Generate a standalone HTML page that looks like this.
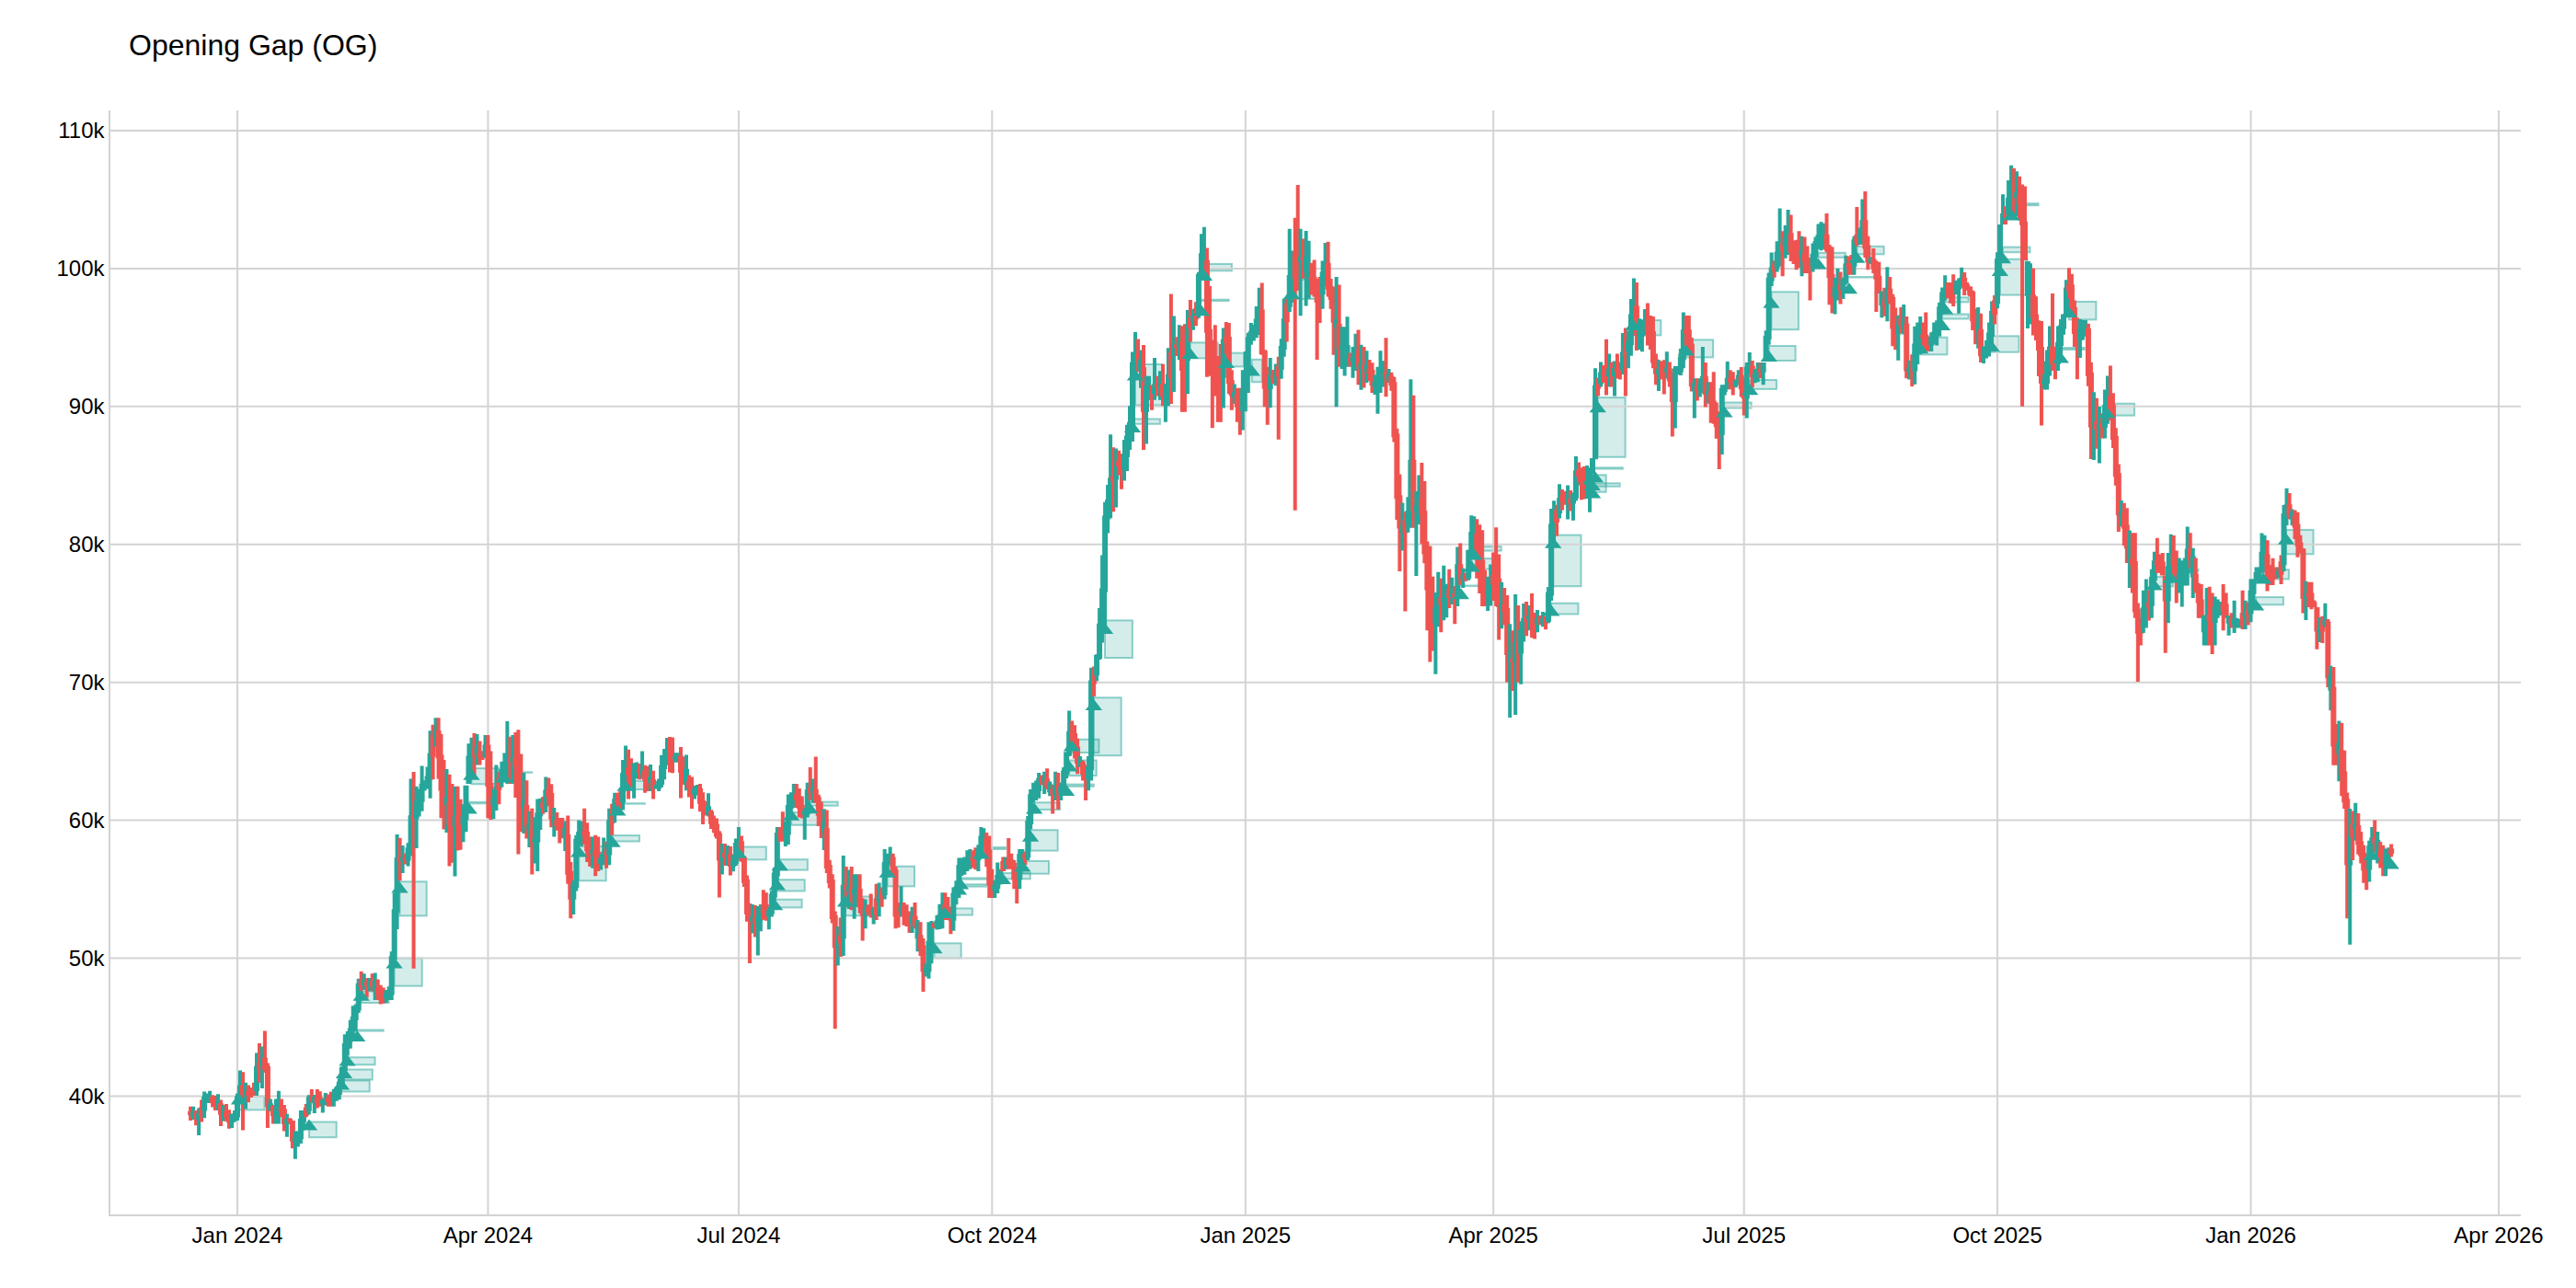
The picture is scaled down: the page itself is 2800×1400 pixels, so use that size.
<!DOCTYPE html>
<html><head><meta charset="utf-8"><style>
html,body{margin:0;padding:0;background:#fff;width:2800px;height:1400px;overflow:hidden}
svg{display:block}
.g{stroke:#d3d3d3;stroke-width:2}
text{font-family:"Liberation Sans",Arial,sans-serif;font-size:24px;fill:#000}
.t{font-size:32px}
</style></head><body>
<svg width="2800" height="1400" viewBox="0 0 2800 1400">
<rect width="2800" height="1400" fill="#fff"/>
<text class="t" x="140" y="60.3">Opening Gap (OG)</text>
<g fill="rgba(38,166,154,0.2)" stroke="rgba(38,166,154,0.5)" stroke-width="2"><rect x="260.0" y="1191.6" width="27.5" height="14.8"/><rect x="336.0" y="1219.5" width="29.7" height="16.7"/><rect x="371.0" y="1174.5" width="30.7" height="12.0"/><rect x="374.0" y="1162.5" width="30.8" height="11.0"/><rect x="377.5" y="1149.3" width="30.1" height="8.0"/><rect x="388.2" y="1119.5" width="28.5" height="1.1"/><rect x="392.7" y="1077.5" width="29.9" height="12.5"/><rect x="428.6" y="1041.5" width="30.1" height="30.2"/><rect x="434.5" y="958.3" width="29.2" height="37.1"/><rect x="509.7" y="871.8" width="29.8" height="1.5"/><rect x="512.5" y="835.1" width="29.9" height="17.2"/><rect x="547.8" y="839.3" width="30.4" height="0.5"/><rect x="629.3" y="919.9" width="29.4" height="37.4"/><rect x="665.6" y="908.1" width="29.4" height="6.4"/><rect x="802.6" y="920.5" width="30.2" height="13.9"/><rect x="842.1" y="977.7" width="29.5" height="8.7"/><rect x="844.8" y="956.2" width="29.9" height="12.3"/><rect x="847.7" y="934.2" width="30.1" height="11.4"/><rect x="860.1" y="883.0" width="28.8" height="13.8"/><rect x="880.3" y="871.6" width="30.3" height="4.1"/><rect x="919.0" y="974.5" width="28.9" height="20.8"/><rect x="964.5" y="941.7" width="29.5" height="21.7"/><rect x="1015.4" y="1025.3" width="29.3" height="16.2"/><rect x="1027.0" y="987.4" width="29.9" height="7.2"/><rect x="1042.0" y="961.3" width="29.9" height="2.3"/><rect x="1044.0" y="954.4" width="29.9" height="1.3"/><rect x="1066.3" y="921.0" width="26.7" height="2.0"/><rect x="1090.0" y="949.0" width="29.8" height="6.3"/><rect x="1111.5" y="935.9" width="28.5" height="13.8"/><rect x="1120.1" y="902.2" width="29.6" height="22.4"/><rect x="1124.2" y="872.3" width="27.8" height="7.7"/><rect x="1159.1" y="852.6" width="29.8" height="2.2"/><rect x="1162.1" y="826.5" width="29.6" height="16.6"/><rect x="1164.9" y="803.7" width="29.6" height="14.3"/><rect x="1188.9" y="758.3" width="29.8" height="62.9"/><rect x="1201.0" y="674.4" width="29.9" height="40.7"/><rect x="1231.0" y="455.4" width="29.9" height="5.4"/><rect x="1234.0" y="396.0" width="29.0" height="44.5"/><rect x="1293.7" y="372.4" width="30.0" height="17.0"/><rect x="1305.7" y="325.7" width="29.9" height="1.3"/><rect x="1308.9" y="286.9" width="30.0" height="7.4"/><rect x="1332.8" y="383.7" width="19.2" height="14.7"/><rect x="1360.7" y="390.8" width="11.2" height="24.4"/><rect x="1587.9" y="636.5" width="21.9" height="0.5"/><rect x="1599.6" y="607.1" width="28.8" height="11.5"/><rect x="1602.4" y="594.0" width="29.3" height="4.6"/><rect x="1686.2" y="655.7" width="29.3" height="11.8"/><rect x="1688.2" y="581.6" width="30.3" height="55.6"/><rect x="1731.1" y="516.3" width="14.6" height="18.5"/><rect x="1730.7" y="525.3" width="29.9" height="3.4"/><rect x="1733.9" y="508.3" width="29.9" height="1.3"/><rect x="1736.7" y="432.1" width="29.9" height="64.7"/><rect x="1775.4" y="348.1" width="29.9" height="16.3"/><rect x="1832.5" y="369.4" width="29.6" height="19.0"/><rect x="1874.3" y="437.5" width="29.3" height="6.0"/><rect x="1902.1" y="413.0" width="28.9" height="9.9"/><rect x="1922.7" y="376.0" width="28.9" height="16.0"/><rect x="1925.4" y="317.3" width="29.5" height="40.9"/><rect x="1976.3" y="274.8" width="29.5" height="5.0"/><rect x="2009.9" y="301.0" width="26.2" height="0.5"/><rect x="2018.3" y="267.8" width="29.4" height="8.5"/><rect x="2087.2" y="366.7" width="29.3" height="18.7"/><rect x="2111.0" y="341.5" width="28.7" height="5.0"/><rect x="2114.0" y="323.3" width="25.7" height="5.1"/><rect x="2164.6" y="365.3" width="29.9" height="17.4"/><rect x="2173.9" y="281.7" width="29.6" height="38.9"/><rect x="2176.9" y="268.6" width="29.6" height="5.6"/><rect x="2186.3" y="221.2" width="29.3" height="2.0"/><rect x="2239.8" y="378.0" width="25.8" height="2.0"/><rect x="2248.8" y="327.9" width="29.6" height="19.5"/><rect x="2290.2" y="438.7" width="29.8" height="12.9"/><rect x="2341.5" y="627.0" width="20.4" height="10.4"/><rect x="2359.6" y="619.0" width="29.6" height="2.3"/><rect x="2452.1" y="649.1" width="29.8" height="8.2"/><rect x="2460.0" y="619.2" width="27.9" height="10.2"/><rect x="2485.0" y="575.9" width="29.5" height="26.4"/><rect x="2578.0" y="922.5" width="14.0" height="0.5"/><rect x="671.4" y="873.2" width="29.5" height="0.5"/><rect x="679.6" y="848.7" width="29.9" height="9.4"/><rect x="1403.9" y="304.0" width="29.1" height="21.0"/></g>
<line x1="119" x2="2740" y1="1191.42" y2="1191.42" class="g"/><line x1="119" x2="2740" y1="1041.50" y2="1041.50" class="g"/><line x1="119" x2="2740" y1="891.59" y2="891.59" class="g"/><line x1="119" x2="2740" y1="741.67" y2="741.67" class="g"/><line x1="119" x2="2740" y1="591.75" y2="591.75" class="g"/><line x1="119" x2="2740" y1="441.83" y2="441.83" class="g"/><line x1="119" x2="2740" y1="291.92" y2="291.92" class="g"/><line x1="119" x2="2740" y1="142.00" y2="142.00" class="g"/><line x1="258.00" x2="258.00" y1="120" y2="1321" class="g"/><line x1="530.45" x2="530.45" y1="120" y2="1321" class="g"/><line x1="802.89" x2="802.89" y1="120" y2="1321" class="g"/><line x1="1078.33" x2="1078.33" y1="120" y2="1321" class="g"/><line x1="1353.77" x2="1353.77" y1="120" y2="1321" class="g"/><line x1="1623.22" x2="1623.22" y1="120" y2="1321" class="g"/><line x1="1895.67" x2="1895.67" y1="120" y2="1321" class="g"/><line x1="2171.11" x2="2171.11" y1="120" y2="1321" class="g"/><line x1="2446.55" x2="2446.55" y1="120" y2="1321" class="g"/><line x1="2716.00" x2="2716.00" y1="120" y2="1321" class="g"/><line x1="119" x2="119" y1="120" y2="1322" class="g"/><line x1="118" x2="2740" y1="1321" y2="1321" class="g"/>
<text x="113.5" y="1199.72" text-anchor="end">40k</text><text x="113.5" y="1049.80" text-anchor="end">50k</text><text x="113.5" y="899.88" text-anchor="end">60k</text><text x="113.5" y="749.97" text-anchor="end">70k</text><text x="113.5" y="600.05" text-anchor="end">80k</text><text x="113.5" y="450.13" text-anchor="end">90k</text><text x="113.5" y="300.22" text-anchor="end">100k</text><text x="113.5" y="150.30" text-anchor="end">110k</text><text x="258.00" y="1350.9" text-anchor="middle">Jan 2024</text><text x="530.45" y="1350.9" text-anchor="middle">Apr 2024</text><text x="802.89" y="1350.9" text-anchor="middle">Jul 2024</text><text x="1078.33" y="1350.9" text-anchor="middle">Oct 2024</text><text x="1353.77" y="1350.9" text-anchor="middle">Jan 2025</text><text x="1623.22" y="1350.9" text-anchor="middle">Apr 2025</text><text x="1895.67" y="1350.9" text-anchor="middle">Jul 2025</text><text x="2171.11" y="1350.9" text-anchor="middle">Oct 2025</text><text x="2446.55" y="1350.9" text-anchor="middle">Jan 2026</text><text x="2716.00" y="1350.9" text-anchor="middle">Apr 2026</text>
<g><path d="M205.1 1202.7h4V1207.8h1V1212.3h-1V1217.9h-4V1212.3h-1V1207.8h1Z" fill="#ef5350"/><path d="M208.1 1202.7h4V1207.8h1V1214.1h-1V1217.0h-4V1214.1h-1V1207.8h1Z" fill="#26a69a"/><path d="M211.1 1207.1h4V1210.1h1V1217.2h-1V1223.2h-4V1217.2h-1V1210.1h1Z" fill="#ef5350"/><path d="M214.1 1204.5h4V1210.1h1V1217.2h-1V1233.9h-4V1217.2h-1V1210.1h1Z" fill="#26a69a"/><path d="M217.1 1195.5h4V1203.4h1V1214.1h-1V1219.6h-4V1214.1h-1V1203.4h1Z" fill="#ef5350"/><path d="M220.1 1186.6h4V1191.8h1V1207.4h-1V1215.2h-4V1207.4h-1V1191.8h1Z" fill="#26a69a"/><path d="M223.1 1188.4h4V1191.8h1V1195.8h-1V1199.1h-4V1195.8h-1V1191.8h1Z" fill="#26a69a"/><path d="M226.1 1185.7h4V1191.8h1V1196.6h-1V1199.1h-4V1196.6h-1V1191.8h1Z" fill="#26a69a"/><path d="M229.1 1190.2h4V1192.6h1V1199.3h-1V1203.6h-4V1199.3h-1V1192.6h1Z" fill="#ef5350"/><path d="M232.0 1191.1h4V1195.3h1V1201.1h-1V1207.1h-4V1201.1h-1V1195.3h1Z" fill="#ef5350"/><path d="M235.0 1189.3h4V1197.1h1V1203.3h-1V1207.1h-4V1203.3h-1V1197.1h1Z" fill="#26a69a"/><path d="M238.0 1195.5h4V1199.3h1V1211.8h-1V1224.1h-4V1211.8h-1V1199.3h1Z" fill="#ef5350"/><path d="M241.0 1200.9h4V1207.8h1V1211.8h-1V1218.8h-4V1211.8h-1V1207.8h1Z" fill="#26a69a"/><path d="M244.0 1200.0h4V1207.8h1V1214.5h-1V1218.8h-4V1214.5h-1V1207.8h1Z" fill="#ef5350"/><path d="M247.0 1206.2h4V1210.5h1V1220.3h-1V1226.8h-4V1220.3h-1V1210.5h1Z" fill="#ef5350"/><path d="M250.0 1210.7h4V1213.2h1V1220.3h-1V1225.9h-4V1220.3h-1V1213.2h1Z" fill="#26a69a"/><path d="M253.0 1207.1h4V1210.5h1V1217.2h-1V1219.6h-4V1217.2h-1V1210.5h1Z" fill="#26a69a"/><path d="M256.0 1188.4h4V1191.3h1V1214.5h-1V1217.9h-4V1214.5h-1V1191.3h1Z" fill="#26a69a"/><path d="M259.0 1163.4h4V1179.7h1V1195.3h-1V1198.2h-4V1195.3h-1V1179.7h1Z" fill="#26a69a"/><path d="M262.0 1165.2h4V1179.7h1V1193.1h-1V1228.6h-4V1193.1h-1V1179.7h1Z" fill="#ef5350"/><path d="M265.0 1176.8h4V1186.8h1V1193.1h-1V1205.4h-4V1193.1h-1V1186.8h1Z" fill="#26a69a"/><path d="M268.0 1179.5h4V1185.5h1V1190.8h-1V1198.2h-4V1190.8h-1V1185.5h1Z" fill="#ef5350"/><path d="M271.0 1182.1h4V1184.6h1V1189.5h-1V1192.9h-4V1189.5h-1V1184.6h1Z" fill="#ef5350"/><path d="M274.0 1176.8h4V1181.9h1V1188.6h-1V1191.1h-4V1188.6h-1V1181.9h1Z" fill="#ef5350"/><path d="M277.0 1144.6h4V1158.7h1V1185.9h-1V1191.1h-4V1185.9h-1V1158.7h1Z" fill="#26a69a"/><path d="M280.0 1133.9h4V1155.1h1V1162.7h-1V1176.8h-4V1162.7h-1V1155.1h1Z" fill="#ef5350"/><path d="M282.9 1137.5h4V1149.8h1V1159.1h-1V1183.0h-4V1159.1h-1V1149.8h1Z" fill="#26a69a"/><path d="M285.9 1120.5h4V1149.8h1V1162.7h-1V1166.1h-4V1162.7h-1V1149.8h1Z" fill="#ef5350"/><path d="M288.9 1155.4h4V1158.7h1V1203.3h-1V1225.9h-4V1203.3h-1V1158.7h1Z" fill="#ef5350"/><path d="M291.9 1194.6h4V1199.3h1V1206.5h-1V1208.0h-4V1206.5h-1V1199.3h1Z" fill="#26a69a"/><path d="M294.9 1200.9h4V1202.5h1V1213.2h-1V1221.4h-4V1213.2h-1V1202.5h1Z" fill="#ef5350"/><path d="M297.9 1194.6h4V1206.0h1V1213.2h-1V1221.4h-4V1213.2h-1V1206.0h1Z" fill="#26a69a"/><path d="M300.9 1185.7h4V1202.5h1V1210.0h-1V1221.4h-4V1210.0h-1V1202.5h1Z" fill="#26a69a"/><path d="M303.9 1194.6h4V1202.5h1V1209.6h-1V1214.3h-4V1209.6h-1V1202.5h1Z" fill="#ef5350"/><path d="M306.9 1200.9h4V1205.6h1V1222.1h-1V1229.5h-4V1222.1h-1V1205.6h1Z" fill="#ef5350"/><path d="M309.9 1210.7h4V1215.9h1V1222.1h-1V1235.7h-4V1222.1h-1V1215.9h1Z" fill="#26a69a"/><path d="M312.9 1215.2h4V1215.9h1V1220.5h-1V1220.5h-4V1220.5h-1V1215.9h1Z" fill="#ef5350"/><path d="M315.9 1217.9h4V1217.9h1V1240.8h-1V1248.2h-4V1240.8h-1V1217.9h1Z" fill="#ef5350"/><path d="M318.9 1229.5h4V1235.9h1V1240.8h-1V1259.8h-4V1240.8h-1V1235.9h1Z" fill="#26a69a"/><path d="M321.9 1229.5h4V1234.2h1V1239.9h-1V1246.4h-4V1239.9h-1V1234.2h1Z" fill="#26a69a"/><path d="M324.9 1207.1h4V1215.9h1V1238.2h-1V1242.9h-4V1238.2h-1V1215.9h1Z" fill="#26a69a"/><path d="M327.9 1207.1h4V1208.7h1V1219.9h-1V1228.6h-4V1219.9h-1V1208.7h1Z" fill="#26a69a"/><path d="M330.8 1200.0h4V1203.8h1V1212.7h-1V1214.3h-4V1212.7h-1V1203.8h1Z" fill="#ef5350"/><path d="M333.8 1190.2h4V1192.2h1V1207.8h-1V1211.6h-4V1207.8h-1V1192.2h1Z" fill="#26a69a"/><path d="M336.8 1183.9h4V1192.1h1V1196.2h-1V1198.2h-4V1196.2h-1V1192.1h1Z" fill="#ef5350"/><path d="M339.8 1189.9h4V1192.1h1V1199.2h-1V1210.0h-4V1199.2h-1V1192.1h1Z" fill="#26a69a"/><path d="M342.8 1184.0h4V1192.4h1V1199.2h-1V1204.5h-4V1199.2h-1V1192.4h1Z" fill="#ef5350"/><path d="M345.8 1186.2h4V1192.4h1V1200.5h-1V1202.7h-4V1200.5h-1V1192.4h1Z" fill="#ef5350"/><path d="M348.8 1194.3h4V1195.9h1V1200.5h-1V1209.5h-4V1200.5h-1V1195.9h1Z" fill="#26a69a"/><path d="M351.8 1188.1h4V1193.5h1V1199.9h-1V1201.4h-4V1199.9h-1V1193.5h1Z" fill="#26a69a"/><path d="M354.8 1189.6h4V1193.5h1V1198.1h-1V1202.7h-4V1198.1h-1V1193.5h1Z" fill="#ef5350"/><path d="M357.8 1186.8h4V1192.8h1V1198.1h-1V1202.7h-4V1198.1h-1V1192.8h1Z" fill="#ef5350"/><path d="M360.8 1184.0h4V1188.4h1V1196.8h-1V1202.7h-4V1196.8h-1V1188.4h1Z" fill="#26a69a"/><path d="M363.8 1180.9h4V1186.1h1V1192.4h-1V1196.8h-4V1192.4h-1V1186.1h1Z" fill="#26a69a"/><path d="M366.8 1172.2h4V1175.8h1V1190.1h-1V1195.2h-4V1190.1h-1V1175.8h1Z" fill="#26a69a"/><path d="M369.8 1159.2h4V1159.9h1V1179.8h-1V1183.4h-4V1179.8h-1V1159.9h1Z" fill="#26a69a"/><path d="M372.8 1124.2h4V1133.9h1V1163.9h-1V1164.6h-4V1163.9h-1V1133.9h1Z" fill="#26a69a"/><path d="M375.8 1121.1h4V1128.4h1V1137.9h-1V1147.5h-4V1137.9h-1V1128.4h1Z" fill="#26a69a"/><path d="M378.8 1108.7h4V1117.6h1V1132.4h-1V1139.8h-4V1132.4h-1V1117.6h1Z" fill="#26a69a"/><path d="M381.7 1093.2h4V1105.1h1V1121.6h-1V1130.4h-4V1121.6h-1V1105.1h1Z" fill="#26a69a"/><path d="M384.7 1091.6h4V1094.3h1V1109.1h-1V1121.1h-4V1109.1h-1V1094.3h1Z" fill="#26a69a"/><path d="M387.7 1063.7h4V1068.7h1V1098.3h-1V1100.9h-4V1098.3h-1V1068.7h1Z" fill="#26a69a"/><path d="M390.7 1055.9h4V1065.2h1V1072.7h-1V1077.6h-4V1072.7h-1V1065.2h1Z" fill="#ef5350"/><path d="M393.7 1058.2h4V1065.2h1V1071.5h-1V1076.1h-4V1071.5h-1V1065.2h1Z" fill="#26a69a"/><path d="M396.7 1062.9h4V1067.5h1V1072.3h-1V1084.6h-4V1072.3h-1V1067.5h1Z" fill="#ef5350"/><path d="M399.7 1062.9h4V1068.3h1V1072.3h-1V1077.6h-4V1072.3h-1V1068.3h1Z" fill="#26a69a"/><path d="M402.7 1058.2h4V1065.9h1V1072.3h-1V1077.6h-4V1072.3h-1V1065.9h1Z" fill="#ef5350"/><path d="M405.7 1057.5h4V1065.9h1V1077.7h-1V1087.0h-4V1077.7h-1V1065.9h1Z" fill="#26a69a"/><path d="M408.7 1064.4h4V1073.7h1V1080.8h-1V1087.0h-4V1080.8h-1V1073.7h1Z" fill="#ef5350"/><path d="M411.7 1070.7h4V1076.8h1V1084.1h-1V1091.6h-4V1084.1h-1V1076.8h1Z" fill="#ef5350"/><path d="M414.7 1073.4h4V1080.1h1V1085.1h-1V1090.8h-4V1085.1h-1V1080.1h1Z" fill="#ef5350"/><path d="M417.7 1076.1h4V1079.5h1V1085.1h-1V1090.1h-4V1085.1h-1V1079.5h1Z" fill="#26a69a"/><path d="M420.7 1072.2h4V1077.6h1V1083.5h-1V1087.0h-4V1083.5h-1V1077.6h1Z" fill="#26a69a"/><path d="M423.7 1034.2h4V1039.3h1V1081.6h-1V1087.0h-4V1081.6h-1V1039.3h1Z" fill="#26a69a"/><path d="M426.7 970.6h4V988.3h1V1043.3h-1V1048.5h-4V1043.3h-1V988.3h1Z" fill="#26a69a"/><path d="M429.6 906.9h4V932.0h1V992.3h-1V1010.0h-4V992.3h-1V932.0h1Z" fill="#26a69a"/><path d="M432.6 910.7h4V932.0h1V936.0h-1V957.3h-4V936.0h-1V932.0h1Z" fill="#ef5350"/><path d="M435.6 919.1h4V931.5h1V936.0h-1V948.9h-4V936.0h-1V931.5h1Z" fill="#26a69a"/><path d="M438.6 927.4h4V931.5h1V935.5h-1V939.6h-4V935.5h-1V931.5h1Z" fill="#ef5350"/><path d="M441.6 916.3h4V921.3h1V935.5h-1V941.4h-4V935.5h-1V921.3h1Z" fill="#26a69a"/><path d="M444.6 846.4h4V886.3h1V925.3h-1V930.2h-4V925.3h-1V886.3h1Z" fill="#26a69a"/><path d="M447.6 838.9h4V886.3h1V890.3h-1V1052.8h-4V890.3h-1V886.3h1Z" fill="#ef5350"/><path d="M450.6 854.8h4V870.5h1V890.3h-1V921.9h-4V890.3h-1V870.5h1Z" fill="#26a69a"/><path d="M453.6 857.6h4V867.7h1V874.5h-1V887.4h-4V874.5h-1V867.7h1Z" fill="#26a69a"/><path d="M456.6 832.4h4V851.8h1V871.7h-1V881.8h-4V871.7h-1V851.8h1Z" fill="#26a69a"/><path d="M459.6 848.3h4V850.9h1V855.8h-1V859.4h-4V855.8h-1V850.9h1Z" fill="#26a69a"/><path d="M462.6 833.4h4V843.5h1V854.9h-1V857.6h-4V854.9h-1V843.5h1Z" fill="#26a69a"/><path d="M465.6 794.2h4V818.8h1V847.5h-1V867.8h-4V847.5h-1V818.8h1Z" fill="#26a69a"/><path d="M468.6 787.7h4V797.8h1V822.8h-1V847.3h-4V822.8h-1V797.8h1Z" fill="#ef5350"/><path d="M471.6 780.2h4V794.1h1V801.8h-1V811.9h-4V801.8h-1V794.1h1Z" fill="#26a69a"/><path d="M474.6 780.2h4V794.1h1V824.2h-1V846.4h-4V824.2h-1V794.1h1Z" fill="#ef5350"/><path d="M477.5 797.9h4V820.2h1V859.6h-1V889.2h-4V859.6h-1V820.2h1Z" fill="#ef5350"/><path d="M480.5 825.9h4V855.6h1V870.8h-1V901.4h-4V870.8h-1V855.6h1Z" fill="#ef5350"/><path d="M483.5 836.1h4V866.8h1V875.4h-1V905.1h-4V875.4h-1V866.8h1Z" fill="#26a69a"/><path d="M486.5 841.7h4V871.4h1V896.8h-1V941.4h-4V896.8h-1V871.4h1Z" fill="#ef5350"/><path d="M489.5 852.0h4V892.8h1V898.2h-1V937.7h-4V898.2h-1V892.8h1Z" fill="#ef5350"/><path d="M492.5 854.8h4V887.7h1V898.2h-1V952.6h-4V898.2h-1V887.7h1Z" fill="#26a69a"/><path d="M495.5 854.8h4V887.7h1V898.2h-1V924.6h-4V898.2h-1V887.7h1Z" fill="#ef5350"/><path d="M498.5 868.8h4V892.8h1V898.2h-1V923.7h-4V898.2h-1V892.8h1Z" fill="#ef5350"/><path d="M501.5 874.3h4V887.2h1V896.8h-1V915.3h-4V896.8h-1V887.2h1Z" fill="#26a69a"/><path d="M504.5 853.8h4V853.8h1V891.2h-1V904.2h-4V891.2h-1V853.8h1Z" fill="#26a69a"/><path d="M507.5 808.2h4V821.6h1V852.0h-1V852.0h-4V852.0h-1V821.6h1Z" fill="#26a69a"/><path d="M510.5 801.7h4V818.3h1V825.6h-1V838.9h-4V825.6h-1V818.3h1Z" fill="#26a69a"/><path d="M513.5 797.0h4V812.7h1V822.3h-1V842.7h-4V822.3h-1V812.7h1Z" fill="#ef5350"/><path d="M516.5 797.9h4V812.7h1V820.4h-1V831.5h-4V820.4h-1V812.7h1Z" fill="#26a69a"/><path d="M519.5 805.4h4V816.4h1V823.2h-1V831.5h-4V823.2h-1V816.4h1Z" fill="#ef5350"/><path d="M522.5 816.6h4V818.3h1V823.2h-1V825.9h-4V823.2h-1V818.3h1Z" fill="#ef5350"/><path d="M525.5 798.9h4V809.5h1V822.3h-1V824.0h-4V822.3h-1V809.5h1Z" fill="#26a69a"/><path d="M528.4 798.9h4V809.5h1V854.9h-1V889.2h-4V854.9h-1V809.5h1Z" fill="#ef5350"/><path d="M531.4 816.6h4V850.9h1V875.9h-1V891.1h-4V875.9h-1V850.9h1Z" fill="#ef5350"/><path d="M534.4 857.6h4V867.2h1V875.9h-1V890.2h-4V875.9h-1V867.2h1Z" fill="#26a69a"/><path d="M537.4 831.5h4V854.6h1V871.2h-1V880.9h-4V871.2h-1V854.6h1Z" fill="#26a69a"/><path d="M540.4 838.9h4V845.3h1V858.6h-1V874.3h-4V858.6h-1V845.3h1Z" fill="#ef5350"/><path d="M543.4 827.8h4V836.0h1V849.3h-1V855.7h-4V849.3h-1V836.0h1Z" fill="#26a69a"/><path d="M546.4 818.4h4V831.4h1V840.0h-1V848.3h-4V840.0h-1V831.4h1Z" fill="#26a69a"/><path d="M549.4 784.0h4V824.4h1V835.4h-1V852.0h-4V835.4h-1V824.4h1Z" fill="#26a69a"/><path d="M552.4 800.7h4V824.4h1V828.4h-1V852.0h-4V828.4h-1V824.4h1Z" fill="#ef5350"/><path d="M555.4 798.9h4V823.4h1V828.4h-1V852.0h-4V828.4h-1V823.4h1Z" fill="#26a69a"/><path d="M558.4 796.1h4V823.4h1V833.5h-1V866.9h-4V833.5h-1V823.4h1Z" fill="#ef5350"/><path d="M561.4 793.3h4V829.5h1V863.8h-1V928.4h-4V863.8h-1V829.5h1Z" fill="#ef5350"/><path d="M564.4 819.4h4V859.8h1V874.0h-1V904.2h-4V874.0h-1V859.8h1Z" fill="#ef5350"/><path d="M567.4 839.9h4V870.0h1V879.1h-1V906.0h-4V879.1h-1V870.0h1Z" fill="#26a69a"/><path d="M570.4 848.3h4V875.1h1V898.7h-1V911.6h-4V898.7h-1V875.1h1Z" fill="#ef5350"/><path d="M573.4 881.8h4V894.7h1V903.4h-1V920.9h-4V903.4h-1V894.7h1Z" fill="#26a69a"/><path d="M576.3 878.8h4V899.4h1V915.4h-1V950.5h-4V915.4h-1V899.4h1Z" fill="#ef5350"/><path d="M579.3 888.2h4V911.4h1V915.4h-1V938.6h-4V915.4h-1V911.4h1Z" fill="#26a69a"/><path d="M582.3 868.6h4V883.2h1V915.4h-1V947.1h-4V915.4h-1V883.2h1Z" fill="#26a69a"/><path d="M585.3 867.7h4V874.2h1V887.2h-1V901.9h-4V887.2h-1V874.2h1Z" fill="#26a69a"/><path d="M588.3 866.0h4V872.5h1V878.2h-1V884.8h-4V878.2h-1V872.5h1Z" fill="#ef5350"/><path d="M591.3 844.6h4V858.4h1V876.5h-1V883.1h-4V876.5h-1V858.4h1Z" fill="#26a69a"/><path d="M594.3 845.5h4V858.4h1V865.9h-1V875.4h-4V865.9h-1V858.4h1Z" fill="#ef5350"/><path d="M597.3 852.3h4V861.9h1V890.6h-1V899.3h-4V890.6h-1V861.9h1Z" fill="#ef5350"/><path d="M600.3 877.9h4V886.6h1V894.9h-1V909.5h-4V894.9h-1V886.6h1Z" fill="#26a69a"/><path d="M603.3 883.1h4V890.9h1V897.9h-1V902.7h-4V897.9h-1V890.9h1Z" fill="#ef5350"/><path d="M606.3 889.0h4V893.9h1V902.1h-1V916.4h-4V902.1h-1V893.9h1Z" fill="#ef5350"/><path d="M609.3 889.0h4V898.1h1V903.9h-1V911.2h-4V903.9h-1V898.1h1Z" fill="#ef5350"/><path d="M612.3 892.5h4V899.9h1V910.7h-1V924.9h-4V910.7h-1V899.9h1Z" fill="#26a69a"/><path d="M615.3 886.5h4V906.7h1V950.8h-1V960.8h-4V950.8h-1V906.7h1Z" fill="#ef5350"/><path d="M618.3 936.9h4V946.8h1V977.7h-1V998.3h-4V977.7h-1V946.8h1Z" fill="#ef5350"/><path d="M621.3 957.3h4V960.9h1V977.7h-1V994.1h-4V977.7h-1V960.9h1Z" fill="#26a69a"/><path d="M624.3 907.8h4V911.8h1V964.9h-1V968.4h-4V964.9h-1V911.8h1Z" fill="#26a69a"/><path d="M627.2 891.6h4V904.1h1V915.8h-1V919.8h-4V915.8h-1V904.1h1Z" fill="#26a69a"/><path d="M630.2 892.5h4V903.3h1V908.1h-1V919.8h-4V908.1h-1V903.3h1Z" fill="#26a69a"/><path d="M633.2 878.8h4V903.3h1V908.1h-1V918.1h-4V908.1h-1V903.3h1Z" fill="#ef5350"/><path d="M636.2 894.2h4V904.1h1V925.2h-1V936.9h-4V925.2h-1V904.1h1Z" fill="#ef5350"/><path d="M639.2 909.5h4V921.2h1V927.8h-1V942.0h-4V927.8h-1V921.2h1Z" fill="#ef5350"/><path d="M642.2 909.5h4V923.8h1V928.6h-1V943.7h-4V928.6h-1V923.8h1Z" fill="#26a69a"/><path d="M645.2 907.8h4V924.6h1V930.3h-1V952.2h-4V930.3h-1V924.6h1Z" fill="#ef5350"/><path d="M648.2 909.5h4V926.3h1V938.9h-1V947.1h-4V938.9h-1V926.3h1Z" fill="#ef5350"/><path d="M651.2 928.3h4V932.3h1V938.9h-1V945.4h-4V938.9h-1V932.3h1Z" fill="#26a69a"/><path d="M654.2 910.4h4V925.5h1V936.3h-1V940.3h-4V936.3h-1V925.5h1Z" fill="#26a69a"/><path d="M657.2 914.7h4V925.5h1V929.5h-1V943.7h-4V929.5h-1V925.5h1Z" fill="#ef5350"/><path d="M660.2 878.8h4V891.3h1V929.5h-1V940.3h-4V929.5h-1V891.3h1Z" fill="#26a69a"/><path d="M663.2 873.7h4V881.9h1V895.3h-1V907.8h-4V895.3h-1V881.9h1Z" fill="#ef5350"/><path d="M666.2 861.7h4V868.3h1V885.9h-1V894.2h-4V885.9h-1V868.3h1Z" fill="#26a69a"/><path d="M669.2 861.7h4V868.3h1V872.3h-1V878.8h-4V872.3h-1V868.3h1Z" fill="#ef5350"/><path d="M672.2 860.0h4V868.3h1V872.3h-1V880.5h-4V872.3h-1V868.3h1Z" fill="#ef5350"/><path d="M675.1 825.9h4V840.1h1V872.3h-1V880.5h-4V872.3h-1V840.1h1Z" fill="#26a69a"/><path d="M678.1 810.5h4V834.5h1V844.1h-1V858.3h-4V844.1h-1V834.5h1Z" fill="#26a69a"/><path d="M681.1 814.8h4V834.5h1V842.4h-1V868.6h-4V842.4h-1V834.5h1Z" fill="#ef5350"/><path d="M684.1 824.2h4V838.4h1V844.9h-1V856.6h-4V844.9h-1V838.4h1Z" fill="#ef5350"/><path d="M687.1 829.3h4V835.8h1V844.9h-1V867.7h-4V844.9h-1V835.8h1Z" fill="#26a69a"/><path d="M690.1 828.4h4V835.8h1V840.2h-1V846.4h-4V840.2h-1V835.8h1Z" fill="#26a69a"/><path d="M693.1 830.1h4V836.2h1V840.2h-1V847.2h-4V840.2h-1V836.2h1Z" fill="#ef5350"/><path d="M696.1 816.5h4V836.2h1V841.1h-1V846.4h-4V841.1h-1V836.2h1Z" fill="#26a69a"/><path d="M699.1 831.8h4V837.1h1V848.4h-1V861.7h-4V848.4h-1V837.1h1Z" fill="#ef5350"/><path d="M702.1 832.7h4V844.4h1V848.4h-1V860.0h-4V848.4h-1V844.4h1Z" fill="#ef5350"/><path d="M705.1 831.0h4V844.4h1V850.9h-1V860.0h-4V850.9h-1V844.4h1Z" fill="#26a69a"/><path d="M708.1 837.8h4V846.9h1V857.3h-1V868.6h-4V857.3h-1V846.9h1Z" fill="#ef5350"/><path d="M711.1 853.2h4V853.3h1V857.3h-1V857.5h-4V857.3h-1V853.3h1Z" fill="#26a69a"/><path d="M714.1 846.4h4V849.0h1V857.3h-1V860.0h-4V857.3h-1V849.0h1Z" fill="#26a69a"/><path d="M717.1 820.7h4V832.0h1V853.0h-1V855.7h-4V853.0h-1V832.0h1Z" fill="#26a69a"/><path d="M720.1 813.9h4V820.9h1V836.0h-1V847.2h-4V836.0h-1V820.9h1Z" fill="#26a69a"/><path d="M723.0 802.0h4V814.9h1V824.9h-1V831.8h-4V824.9h-1V814.9h1Z" fill="#26a69a"/><path d="M726.0 801.1h4V814.9h1V822.5h-1V839.5h-4V822.5h-1V814.9h1Z" fill="#ef5350"/><path d="M729.0 801.5h4V818.5h1V825.6h-1V840.3h-4V825.6h-1V818.5h1Z" fill="#ef5350"/><path d="M732.0 818.3h4V821.6h1V825.6h-1V828.8h-4V825.6h-1V821.6h1Z" fill="#26a69a"/><path d="M735.0 818.3h4V821.6h1V825.6h-1V828.8h-4V825.6h-1V821.6h1Z" fill="#26a69a"/><path d="M738.0 812.0h4V821.6h1V839.7h-1V867.6h-4V839.7h-1V821.6h1Z" fill="#ef5350"/><path d="M741.0 822.5h4V835.7h1V839.7h-1V852.9h-4V839.7h-1V835.7h1Z" fill="#ef5350"/><path d="M744.0 820.4h4V835.7h1V852.8h-1V859.2h-4V852.8h-1V835.7h1Z" fill="#26a69a"/><path d="M747.0 842.4h4V848.8h1V857.5h-1V866.5h-4V857.5h-1V848.8h1Z" fill="#ef5350"/><path d="M750.0 844.5h4V853.5h1V863.3h-1V879.1h-4V863.3h-1V853.5h1Z" fill="#ef5350"/><path d="M753.0 854.0h4V857.2h1V863.3h-1V868.6h-4V863.3h-1V857.2h1Z" fill="#26a69a"/><path d="M756.0 852.9h4V856.7h1V861.2h-1V864.4h-4V861.2h-1V856.7h1Z" fill="#26a69a"/><path d="M759.0 851.9h4V856.7h1V873.8h-1V882.3h-4V873.8h-1V856.7h1Z" fill="#ef5350"/><path d="M762.0 861.3h4V869.8h1V880.6h-1V895.9h-4V880.6h-1V869.8h1Z" fill="#ef5350"/><path d="M765.0 870.7h4V876.6h1V880.6h-1V886.5h-4V880.6h-1V876.6h1Z" fill="#ef5350"/><path d="M768.0 862.3h4V876.6h1V885.8h-1V887.5h-4V885.8h-1V876.6h1Z" fill="#26a69a"/><path d="M771.0 880.2h4V881.8h1V895.8h-1V901.1h-4V895.8h-1V881.8h1Z" fill="#ef5350"/><path d="M773.9 886.5h4V891.8h1V899.5h-1V905.3h-4V899.5h-1V891.8h1Z" fill="#ef5350"/><path d="M776.9 889.6h4V895.5h1V909.4h-1V911.6h-4V909.4h-1V895.5h1Z" fill="#ef5350"/><path d="M779.9 903.2h4V905.4h1V935.6h-1V975.6h-4V935.6h-1V905.4h1Z" fill="#ef5350"/><path d="M782.9 916.9h4V926.9h1V935.6h-1V950.4h-4V935.6h-1V926.9h1Z" fill="#26a69a"/><path d="M785.9 916.9h4V926.9h1V932.0h-1V941.0h-4V932.0h-1V926.9h1Z" fill="#ef5350"/><path d="M788.9 919.0h4V928.0h1V932.5h-1V941.0h-4V932.5h-1V928.0h1Z" fill="#26a69a"/><path d="M791.9 920.0h4V928.5h1V941.9h-1V951.5h-4V941.9h-1V928.5h1Z" fill="#ef5350"/><path d="M794.9 932.6h4V934.8h1V941.9h-1V947.3h-4V941.9h-1V934.8h1Z" fill="#26a69a"/><path d="M797.9 911.6h4V915.9h1V938.8h-1V941.0h-4V938.8h-1V915.9h1Z" fill="#26a69a"/><path d="M800.9 899.0h4V914.3h1V919.9h-1V924.2h-4V919.9h-1V914.3h1Z" fill="#26a69a"/><path d="M803.9 908.5h4V914.3h1V935.6h-1V936.8h-4V935.6h-1V914.3h1Z" fill="#ef5350"/><path d="M806.9 930.5h4V931.6h1V959.8h-1V964.0h-4V959.8h-1V931.6h1Z" fill="#ef5350"/><path d="M809.9 951.5h4V955.8h1V993.8h-1V1001.8h-4V993.8h-1V955.8h1Z" fill="#ef5350"/><path d="M812.9 981.9h4V989.8h1V1000.6h-1V1046.9h-4V1000.6h-1V989.8h1Z" fill="#ef5350"/><path d="M815.9 982.9h4V996.6h1V1001.2h-1V1014.4h-4V1001.2h-1V996.6h1Z" fill="#26a69a"/><path d="M818.9 984.0h4V997.2h1V1003.8h-1V1018.6h-4V1003.8h-1V997.2h1Z" fill="#ef5350"/><path d="M821.8 985.0h4V996.6h1V1003.8h-1V1038.5h-4V1003.8h-1V996.6h1Z" fill="#26a69a"/><path d="M824.8 982.9h4V989.3h1V1000.6h-1V1012.3h-4V1000.6h-1V989.3h1Z" fill="#26a69a"/><path d="M827.8 967.2h4V983.0h1V993.3h-1V999.7h-4V993.3h-1V983.0h1Z" fill="#ef5350"/><path d="M830.8 970.3h4V983.0h1V995.9h-1V1000.7h-4V995.9h-1V983.0h1Z" fill="#ef5350"/><path d="M833.8 987.1h4V989.8h1V995.9h-1V1010.2h-4V995.9h-1V989.8h1Z" fill="#26a69a"/><path d="M836.8 968.2h4V971.5h1V993.8h-1V996.5h-4V993.8h-1V971.5h1Z" fill="#26a69a"/><path d="M839.8 943.1h4V948.4h1V975.5h-1V978.7h-4V975.5h-1V948.4h1Z" fill="#26a69a"/><path d="M842.8 899.0h4V904.9h1V952.4h-1V957.8h-4V952.4h-1V904.9h1Z" fill="#26a69a"/><path d="M845.8 899.0h4V904.9h1V908.9h-1V914.8h-4V908.9h-1V904.9h1Z" fill="#ef5350"/><path d="M848.8 882.3h4V901.8h1V908.9h-1V914.8h-4V908.9h-1V901.8h1Z" fill="#ef5350"/><path d="M851.8 892.7h4V901.8h1V907.3h-1V920.0h-4V907.3h-1V901.8h1Z" fill="#26a69a"/><path d="M854.8 863.4h4V875.0h1V907.3h-1V917.9h-4V907.3h-1V875.0h1Z" fill="#26a69a"/><path d="M857.8 861.3h4V867.7h1V879.0h-1V890.7h-4V879.0h-1V867.7h1Z" fill="#26a69a"/><path d="M860.8 851.9h4V863.0h1V871.7h-1V878.1h-4V871.7h-1V863.0h1Z" fill="#26a69a"/><path d="M863.8 851.9h4V863.0h1V869.6h-1V878.1h-4V869.6h-1V863.0h1Z" fill="#ef5350"/><path d="M866.8 857.1h4V865.6h1V879.0h-1V888.6h-4V879.0h-1V865.6h1Z" fill="#ef5350"/><path d="M869.8 865.5h4V875.0h1V885.8h-1V889.6h-4V885.8h-1V875.0h1Z" fill="#ef5350"/><path d="M872.7 878.1h4V881.3h1V885.8h-1V912.7h-4V885.8h-1V881.3h1Z" fill="#26a69a"/><path d="M875.7 850.8h4V858.2h1V885.3h-1V888.6h-4V885.3h-1V858.2h1Z" fill="#26a69a"/><path d="M878.7 834.0h4V856.1h1V862.2h-1V869.7h-4V862.2h-1V856.1h1Z" fill="#ef5350"/><path d="M881.7 846.6h4V856.1h1V861.7h-1V872.8h-4V861.7h-1V856.1h1Z" fill="#26a69a"/><path d="M884.7 822.5h4V857.7h1V870.3h-1V872.8h-4V870.3h-1V857.7h1Z" fill="#ef5350"/><path d="M887.7 863.8h4V866.3h1V886.8h-1V898.1h-4V886.8h-1V866.3h1Z" fill="#ef5350"/><path d="M890.7 871.5h4V882.8h1V897.1h-1V911.1h-4V897.1h-1V882.8h1Z" fill="#ef5350"/><path d="M893.7 879.2h4V893.1h1V904.2h-1V924.1h-4V904.2h-1V893.1h1Z" fill="#26a69a"/><path d="M896.7 880.4h4V900.2h1V943.9h-1V949.0h-4V943.9h-1V900.2h1Z" fill="#ef5350"/><path d="M899.7 934.8h4V939.9h1V959.9h-1V965.6h-4V959.9h-1V939.9h1Z" fill="#ef5350"/><path d="M902.7 950.2h4V955.9h1V998.9h-1V1003.4h-4V998.9h-1V955.9h1Z" fill="#ef5350"/><path d="M905.7 990.4h4V994.9h1V1030.3h-1V1118.2h-4V1030.3h-1V994.9h1Z" fill="#ef5350"/><path d="M908.7 1007.0h4V1021.6h1V1030.3h-1V1049.6h-4V1030.3h-1V1021.6h1Z" fill="#26a69a"/><path d="M911.7 997.5h4V1016.2h1V1025.6h-1V1040.1h-4V1025.6h-1V1016.2h1Z" fill="#ef5350"/><path d="M914.7 930.1h4V961.8h1V1020.2h-1V1038.9h-4V1020.2h-1V961.8h1Z" fill="#26a69a"/><path d="M917.7 941.9h4V961.8h1V967.6h-1V985.7h-4V967.6h-1V961.8h1Z" fill="#ef5350"/><path d="M920.6 945.4h4V963.6h1V968.7h-1V988.0h-4V968.7h-1V963.6h1Z" fill="#26a69a"/><path d="M923.6 941.9h4V964.7h1V971.7h-1V989.2h-4V971.7h-1V964.7h1Z" fill="#ef5350"/><path d="M926.6 950.2h4V965.9h1V971.7h-1V998.7h-4V971.7h-1V965.9h1Z" fill="#26a69a"/><path d="M929.6 950.2h4V965.9h1V969.9h-1V985.7h-4V969.9h-1V965.9h1Z" fill="#26a69a"/><path d="M932.6 950.2h4V965.9h1V986.5h-1V992.8h-4V986.5h-1V965.9h1Z" fill="#ef5350"/><path d="M935.6 976.2h4V982.5h1V995.4h-1V1022.4h-4V995.4h-1V982.5h1Z" fill="#ef5350"/><path d="M938.6 977.4h4V987.2h1V995.4h-1V1009.3h-4V995.4h-1V987.2h1Z" fill="#26a69a"/><path d="M941.6 983.3h4V987.2h1V991.2h-1V995.1h-4V991.2h-1V987.2h1Z" fill="#ef5350"/><path d="M944.6 971.5h4V987.2h1V993.6h-1V997.5h-4V993.6h-1V987.2h1Z" fill="#ef5350"/><path d="M947.6 985.7h4V989.6h1V994.8h-1V1004.6h-4V994.8h-1V989.6h1Z" fill="#26a69a"/><path d="M950.6 960.8h4V976.6h1V994.8h-1V999.9h-4V994.8h-1V976.6h1Z" fill="#ef5350"/><path d="M953.6 959.6h4V973.0h1V980.6h-1V996.3h-4V980.6h-1V973.0h1Z" fill="#26a69a"/><path d="M956.6 964.4h4V968.9h1V977.0h-1V985.7h-4V977.0h-1V968.9h1Z" fill="#ef5350"/><path d="M959.6 923.0h4V936.9h1V972.9h-1V977.4h-4V972.9h-1V936.9h1Z" fill="#26a69a"/><path d="M962.6 927.7h4V931.6h1V940.9h-1V950.2h-4V940.9h-1V931.6h1Z" fill="#26a69a"/><path d="M965.6 920.6h4V931.6h1V935.6h-1V939.5h-4V935.6h-1V931.6h1Z" fill="#26a69a"/><path d="M968.6 927.7h4V931.6h1V949.2h-1V952.5h-4V949.2h-1V931.6h1Z" fill="#ef5350"/><path d="M971.5 941.9h4V945.2h1V996.6h-1V1009.3h-4V996.6h-1V945.2h1Z" fill="#ef5350"/><path d="M974.5 980.9h4V986.6h1V996.6h-1V1008.2h-4V996.6h-1V986.6h1Z" fill="#ef5350"/><path d="M977.5 963.2h4V986.6h1V990.6h-1V996.3h-4V990.6h-1V986.6h1Z" fill="#26a69a"/><path d="M980.5 980.9h4V986.6h1V996.6h-1V1005.8h-4V996.6h-1V986.6h1Z" fill="#ef5350"/><path d="M983.5 983.3h4V992.6h1V1000.7h-1V1007.0h-4V1000.7h-1V992.6h1Z" fill="#ef5350"/><path d="M986.5 990.4h4V996.7h1V1004.2h-1V1014.1h-4V1004.2h-1V996.7h1Z" fill="#ef5350"/><path d="M989.5 985.7h4V995.5h1V1004.2h-1V1014.1h-4V1004.2h-1V995.5h1Z" fill="#26a69a"/><path d="M992.5 980.9h4V995.5h1V1006.6h-1V1009.3h-4V1006.6h-1V995.5h1Z" fill="#ef5350"/><path d="M995.5 999.9h4V1002.6h1V1020.2h-1V1034.2h-4V1020.2h-1V1002.6h1Z" fill="#26a69a"/><path d="M998.5 1002.2h4V1016.2h1V1031.5h-1V1038.9h-4V1031.5h-1V1016.2h1Z" fill="#ef5350"/><path d="M1001.5 1020.0h4V1027.5h1V1056.3h-1V1078.0h-4V1056.3h-1V1027.5h1Z" fill="#ef5350"/><path d="M1004.5 1047.2h4V1052.3h1V1056.3h-1V1061.4h-4V1056.3h-1V1052.3h1Z" fill="#26a69a"/><path d="M1007.5 1002.2h4V1022.7h1V1056.3h-1V1063.8h-4V1056.3h-1V1022.7h1Z" fill="#26a69a"/><path d="M1010.5 1001.1h4V1003.8h1V1026.7h-1V1047.2h-4V1026.7h-1V1003.8h1Z" fill="#26a69a"/><path d="M1013.5 1002.2h4V1003.8h1V1007.8h-1V1009.3h-4V1007.8h-1V1003.8h1Z" fill="#ef5350"/><path d="M1016.5 995.1h4V1000.5h1V1007.8h-1V1010.5h-4V1007.8h-1V1000.5h1Z" fill="#26a69a"/><path d="M1019.4 982.7h4V994.0h1V1004.5h-1V1009.9h-4V1004.5h-1V994.0h1Z" fill="#26a69a"/><path d="M1022.4 970.3h4V983.1h1V998.0h-1V1009.3h-4V998.0h-1V983.1h1Z" fill="#26a69a"/><path d="M1025.4 970.3h4V983.1h1V989.5h-1V999.9h-4V989.5h-1V983.1h1Z" fill="#ef5350"/><path d="M1028.4 975.0h4V985.5h1V994.8h-1V999.9h-4V994.8h-1V985.5h1Z" fill="#ef5350"/><path d="M1031.4 985.7h4V990.8h1V1000.7h-1V1015.3h-4V1000.7h-1V990.8h1Z" fill="#ef5350"/><path d="M1034.4 964.4h4V971.8h1V1000.7h-1V1011.7h-4V1000.7h-1V971.8h1Z" fill="#26a69a"/><path d="M1037.4 957.3h4V964.6h1V975.8h-1V983.3h-4V975.8h-1V964.6h1Z" fill="#26a69a"/><path d="M1040.4 932.6h4V940.3h1V968.6h-1V976.0h-4V968.6h-1V940.3h1Z" fill="#26a69a"/><path d="M1043.4 932.6h4V939.7h1V944.3h-1V951.9h-4V944.3h-1V939.7h1Z" fill="#26a69a"/><path d="M1046.4 931.4h4V937.3h1V943.7h-1V950.7h-4V943.7h-1V937.3h1Z" fill="#26a69a"/><path d="M1049.4 924.2h4V932.5h1V941.3h-1V947.1h-4V941.3h-1V932.5h1Z" fill="#26a69a"/><path d="M1052.4 923.0h4V931.8h1V936.5h-1V944.7h-4V936.5h-1V931.8h1Z" fill="#26a69a"/><path d="M1055.4 924.2h4V931.8h1V935.8h-1V943.5h-4V935.8h-1V931.8h1Z" fill="#ef5350"/><path d="M1058.4 921.2h4V931.2h1V935.8h-1V945.3h-4V935.8h-1V931.2h1Z" fill="#ef5350"/><path d="M1061.4 918.2h4V922.2h1V935.2h-1V947.1h-4V935.2h-1V922.2h1Z" fill="#26a69a"/><path d="M1064.4 899.0h4V908.4h1V926.2h-1V930.2h-4V926.2h-1V908.4h1Z" fill="#26a69a"/><path d="M1067.3 900.2h4V908.4h1V914.8h-1V920.6h-4V914.8h-1V908.4h1Z" fill="#26a69a"/><path d="M1070.3 905.0h4V910.8h1V927.4h-1V942.3h-4V927.4h-1V910.8h1Z" fill="#ef5350"/><path d="M1073.3 908.6h4V923.4h1V962.3h-1V976.0h-4V962.3h-1V923.4h1Z" fill="#ef5350"/><path d="M1076.3 944.7h4V958.3h1V968.3h-1V976.0h-4V968.3h-1V958.3h1Z" fill="#ef5350"/><path d="M1079.3 956.7h4V961.9h1V968.3h-1V976.0h-4V968.3h-1V961.9h1Z" fill="#26a69a"/><path d="M1082.3 937.5h4V951.1h1V965.9h-1V971.1h-4V965.9h-1V951.1h1Z" fill="#26a69a"/><path d="M1085.3 944.7h4V944.7h1V955.1h-1V961.5h-4V955.1h-1V944.7h1Z" fill="#26a69a"/><path d="M1088.3 931.4h4V936.1h1V947.1h-1V947.1h-4V947.1h-1V936.1h1Z" fill="#ef5350"/><path d="M1091.3 931.4h4V936.1h1V940.1h-1V944.7h-4V940.1h-1V936.1h1Z" fill="#26a69a"/><path d="M1094.3 911.0h4V934.3h1V940.1h-1V944.7h-4V940.1h-1V934.3h1Z" fill="#ef5350"/><path d="M1097.3 927.8h4V934.3h1V941.9h-1V944.7h-4V941.9h-1V934.3h1Z" fill="#ef5350"/><path d="M1100.3 935.1h4V937.9h1V956.3h-1V966.3h-4V956.3h-1V937.9h1Z" fill="#ef5350"/><path d="M1103.3 942.3h4V952.3h1V956.3h-1V982.0h-4V956.3h-1V952.3h1Z" fill="#ef5350"/><path d="M1106.3 923.0h4V928.2h1V956.3h-1V966.3h-4V956.3h-1V928.2h1Z" fill="#26a69a"/><path d="M1109.3 923.0h4V928.2h1V933.4h-1V937.5h-4V933.4h-1V928.2h1Z" fill="#26a69a"/><path d="M1112.3 925.4h4V928.2h1V933.4h-1V939.9h-4V933.4h-1V928.2h1Z" fill="#ef5350"/><path d="M1115.3 886.9h4V892.1h1V932.2h-1V935.1h-4V932.2h-1V892.1h1Z" fill="#26a69a"/><path d="M1118.2 858.1h4V863.3h1V896.1h-1V901.4h-4V896.1h-1V863.3h1Z" fill="#26a69a"/><path d="M1121.2 850.8h4V858.5h1V867.3h-1V872.5h-4V867.3h-1V858.5h1Z" fill="#26a69a"/><path d="M1124.2 848.4h4V856.1h1V862.5h-1V870.1h-4V862.5h-1V856.1h1Z" fill="#26a69a"/><path d="M1127.2 840.0h4V845.8h1V860.1h-1V867.7h-4V860.1h-1V845.8h1Z" fill="#26a69a"/><path d="M1130.2 842.4h4V845.8h1V849.8h-1V853.2h-4V849.8h-1V845.8h1Z" fill="#ef5350"/><path d="M1133.2 838.8h4V845.8h1V850.4h-1V862.9h-4V850.4h-1V845.8h1Z" fill="#26a69a"/><path d="M1136.2 835.2h4V846.4h1V855.8h-1V858.1h-4V855.8h-1V846.4h1Z" fill="#ef5350"/><path d="M1139.2 849.6h4V851.8h1V861.3h-1V865.3h-4V861.3h-1V851.8h1Z" fill="#26a69a"/><path d="M1142.2 853.2h4V857.3h1V863.7h-1V884.5h-4V863.7h-1V857.3h1Z" fill="#ef5350"/><path d="M1145.2 838.8h4V853.0h1V863.7h-1V870.1h-4V863.7h-1V853.0h1Z" fill="#26a69a"/><path d="M1148.2 840.0h4V853.0h1V862.5h-1V879.7h-4V862.5h-1V853.0h1Z" fill="#ef5350"/><path d="M1151.2 850.8h4V854.9h1V862.5h-1V870.1h-4V862.5h-1V854.9h1Z" fill="#26a69a"/><path d="M1154.2 834.0h4V838.0h1V858.9h-1V862.9h-4V858.9h-1V838.0h1Z" fill="#26a69a"/><path d="M1157.2 817.2h4V817.6h1V842.0h-1V846.0h-4V842.0h-1V817.6h1Z" fill="#26a69a"/><path d="M1160.2 772.6h4V794.7h1V821.6h-1V822.0h-4V821.6h-1V794.7h1Z" fill="#26a69a"/><path d="M1163.2 783.5h4V794.7h1V801.1h-1V809.9h-4V801.1h-1V794.7h1Z" fill="#ef5350"/><path d="M1166.1 788.3h4V797.1h1V815.5h-1V824.4h-4V815.5h-1V797.1h1Z" fill="#ef5350"/><path d="M1169.1 802.7h4V811.5h1V830.0h-1V841.2h-4V830.0h-1V811.5h1Z" fill="#ef5350"/><path d="M1172.1 822.0h4V826.0h1V832.4h-1V834.0h-4V832.4h-1V826.0h1Z" fill="#26a69a"/><path d="M1175.1 826.8h4V828.4h1V842.0h-1V848.4h-4V842.0h-1V828.4h1Z" fill="#ef5350"/><path d="M1178.1 831.6h4V838.0h1V847.4h-1V870.1h-4V847.4h-1V838.0h1Z" fill="#ef5350"/><path d="M1181.1 822.0h4V833.2h1V847.4h-1V859.3h-4V847.4h-1V833.2h1Z" fill="#26a69a"/><path d="M1184.1 725.7h4V739.4h1V837.2h-1V848.4h-4V837.2h-1V739.4h1Z" fill="#26a69a"/><path d="M1187.1 724.5h4V730.3h1V743.4h-1V757.0h-4V743.4h-1V730.3h1Z" fill="#ef5350"/><path d="M1190.1 711.3h4V712.1h1V734.3h-1V740.2h-4V734.3h-1V712.1h1Z" fill="#26a69a"/><path d="M1193.1 661.1h4V677.7h1V716.1h-1V717.0h-4V716.1h-1V677.7h1Z" fill="#26a69a"/><path d="M1196.1 603.4h4V639.6h1V681.7h-1V698.4h-4V681.7h-1V639.6h1Z" fill="#26a69a"/><path d="M1199.1 545.7h4V560.6h1V643.6h-1V679.7h-4V643.6h-1V560.6h1Z" fill="#26a69a"/><path d="M1202.1 527.0h4V543.1h1V564.6h-1V579.5h-4V564.6h-1V543.1h1Z" fill="#26a69a"/><path d="M1205.1 472.3h4V519.2h1V547.1h-1V563.2h-4V547.1h-1V519.2h1Z" fill="#26a69a"/><path d="M1208.1 486.2h4V517.5h1V523.2h-1V556.2h-4V523.2h-1V517.5h1Z" fill="#ef5350"/><path d="M1211.1 487.4h4V501.1h1V521.5h-1V551.5h-4V521.5h-1V501.1h1Z" fill="#26a69a"/><path d="M1214.1 489.7h4V501.1h1V506.9h-1V516.6h-4V506.9h-1V501.1h1Z" fill="#ef5350"/><path d="M1217.0 493.2h4V502.9h1V509.8h-1V531.7h-4V509.8h-1V502.9h1Z" fill="#ef5350"/><path d="M1220.0 478.1h4V493.0h1V509.8h-1V522.4h-4V509.8h-1V493.0h1Z" fill="#26a69a"/><path d="M1223.0 461.8h4V473.5h1V497.0h-1V511.9h-4V497.0h-1V473.5h1Z" fill="#26a69a"/><path d="M1226.0 441.3h4V458.7h1V477.5h-1V489.1h-4V477.5h-1V458.7h1Z" fill="#26a69a"/><path d="M1229.0 382.6h4V393.7h1V462.7h-1V480.0h-4V462.7h-1V393.7h1Z" fill="#26a69a"/><path d="M1232.0 360.9h4V384.4h1V397.7h-1V408.7h-4V397.7h-1V384.4h1Z" fill="#26a69a"/><path d="M1235.0 368.5h4V384.4h1V394.4h-1V404.3h-4V394.4h-1V384.4h1Z" fill="#ef5350"/><path d="M1238.0 380.4h4V390.4h1V403.1h-1V421.7h-4V403.1h-1V390.4h1Z" fill="#26a69a"/><path d="M1241.0 375.0h4V399.1h1V447.7h-1V489.1h-4V447.7h-1V399.1h1Z" fill="#ef5350"/><path d="M1244.0 408.7h4V419.7h1V447.7h-1V482.6h-4V447.7h-1V419.7h1Z" fill="#26a69a"/><path d="M1247.0 408.7h4V419.7h1V428.6h-1V434.8h-4V428.6h-1V419.7h1Z" fill="#26a69a"/><path d="M1250.0 418.5h4V424.6h1V428.6h-1V445.7h-4V428.6h-1V424.6h1Z" fill="#ef5350"/><path d="M1253.0 389.1h4V417.6h1V428.6h-1V434.8h-4V428.6h-1V417.6h1Z" fill="#26a69a"/><path d="M1256.0 408.7h4V417.6h1V421.6h-1V430.4h-4V421.6h-1V417.6h1Z" fill="#ef5350"/><path d="M1259.0 403.3h4V417.0h1V421.6h-1V434.8h-4V421.6h-1V417.0h1Z" fill="#26a69a"/><path d="M1262.0 395.7h4V417.0h1V431.3h-1V441.3h-4V431.3h-1V417.0h1Z" fill="#ef5350"/><path d="M1264.9 417.4h4V427.3h1V431.3h-1V458.7h-4V431.3h-1V427.3h1Z" fill="#26a69a"/><path d="M1267.9 378.3h4V406.7h1V431.3h-1V441.3h-4V431.3h-1V406.7h1Z" fill="#26a69a"/><path d="M1270.9 319.6h4V382.8h1V410.7h-1V439.1h-4V410.7h-1V382.8h1Z" fill="#ef5350"/><path d="M1273.9 343.5h4V374.6h1V386.8h-1V426.1h-4V386.8h-1V374.6h1Z" fill="#26a69a"/><path d="M1276.9 366.3h4V374.6h1V378.6h-1V387.0h-4V378.6h-1V374.6h1Z" fill="#ef5350"/><path d="M1279.9 353.3h4V370.8h1V378.6h-1V391.3h-4V378.6h-1V370.8h1Z" fill="#26a69a"/><path d="M1282.9 354.3h4V370.8h1V403.1h-1V447.8h-4V403.1h-1V370.8h1Z" fill="#ef5350"/><path d="M1285.9 352.2h4V388.2h1V403.1h-1V447.8h-4V403.1h-1V388.2h1Z" fill="#ef5350"/><path d="M1288.9 337.0h4V352.3h1V392.2h-1V428.3h-4V392.2h-1V352.3h1Z" fill="#26a69a"/><path d="M1291.9 326.1h4V345.3h1V356.3h-1V371.7h-4V356.3h-1V345.3h1Z" fill="#ef5350"/><path d="M1294.9 335.9h4V343.1h1V349.3h-1V358.7h-4V349.3h-1V343.1h1Z" fill="#26a69a"/><path d="M1297.9 328.3h4V335.0h1V347.1h-1V354.3h-4V347.1h-1V335.0h1Z" fill="#ef5350"/><path d="M1300.9 295.7h4V298.0h1V339.0h-1V345.7h-4V339.0h-1V298.0h1Z" fill="#26a69a"/><path d="M1303.9 254.3h4V275.2h1V302.0h-1V304.3h-4V302.0h-1V275.2h1Z" fill="#26a69a"/><path d="M1306.9 246.7h4V275.2h1V286.8h-1V300.0h-4V286.8h-1V275.2h1Z" fill="#26a69a"/><path d="M1309.9 269.6h4V282.8h1V361.8h-1V409.8h-4V361.8h-1V282.8h1Z" fill="#ef5350"/><path d="M1312.9 310.9h4V357.8h1V391.1h-1V408.7h-4V391.1h-1V357.8h1Z" fill="#ef5350"/><path d="M1315.8 369.6h4V387.1h1V402.0h-1V465.2h-4V402.0h-1V387.1h1Z" fill="#ef5350"/><path d="M1318.8 353.3h4V398.0h1V410.7h-1V430.4h-4V410.7h-1V398.0h1Z" fill="#ef5350"/><path d="M1321.8 387.0h4V406.7h1V424.8h-1V458.7h-4V424.8h-1V406.7h1Z" fill="#ef5350"/><path d="M1324.8 373.9h4V406.7h1V424.8h-1V458.7h-4V424.8h-1V406.7h1Z" fill="#ef5350"/><path d="M1327.8 356.5h4V368.7h1V410.7h-1V443.5h-4V410.7h-1V368.7h1Z" fill="#26a69a"/><path d="M1330.8 350.0h4V365.9h1V372.7h-1V384.8h-4V372.7h-1V365.9h1Z" fill="#ef5350"/><path d="M1333.8 351.1h4V365.9h1V417.2h-1V428.3h-4V417.2h-1V365.9h1Z" fill="#ef5350"/><path d="M1336.8 402.2h4V413.2h1V430.3h-1V445.7h-4V430.3h-1V413.2h1Z" fill="#ef5350"/><path d="M1339.8 417.4h4V426.3h1V432.4h-1V439.1h-4V432.4h-1V426.3h1Z" fill="#26a69a"/><path d="M1342.8 421.7h4V428.4h1V442.2h-1V458.7h-4V442.2h-1V428.4h1Z" fill="#ef5350"/><path d="M1345.8 421.7h4V438.2h1V446.6h-1V472.8h-4V446.6h-1V438.2h1Z" fill="#ef5350"/><path d="M1348.8 402.2h4V422.7h1V446.6h-1V467.4h-4V446.6h-1V422.7h1Z" fill="#26a69a"/><path d="M1351.8 382.0h4V402.5h1V426.7h-1V447.2h-4V426.7h-1V402.5h1Z" fill="#26a69a"/><path d="M1354.8 361.7h4V366.3h1V406.5h-1V427.0h-4V406.5h-1V366.3h1Z" fill="#26a69a"/><path d="M1357.8 350.9h4V359.7h1V370.3h-1V374.8h-4V370.3h-1V359.7h1Z" fill="#26a69a"/><path d="M1360.8 353.0h4V358.1h1V363.7h-1V370.4h-4V363.7h-1V358.1h1Z" fill="#26a69a"/><path d="M1363.7 332.9h4V346.4h1V362.1h-1V367.2h-4V362.1h-1V346.4h1Z" fill="#26a69a"/><path d="M1366.7 312.8h4V336.4h1V350.4h-1V363.9h-4V350.4h-1V336.4h1Z" fill="#26a69a"/><path d="M1369.7 307.4h4V336.4h1V384.9h-1V385.7h-4V384.9h-1V336.4h1Z" fill="#ef5350"/><path d="M1372.7 380.2h4V380.9h1V422.4h-1V442.2h-4V422.4h-1V380.9h1Z" fill="#ef5350"/><path d="M1375.7 398.7h4V418.4h1V423.0h-1V461.7h-4V423.0h-1V418.4h1Z" fill="#ef5350"/><path d="M1378.7 388.9h4V407.6h1V423.0h-1V443.3h-4V423.0h-1V407.6h1Z" fill="#26a69a"/><path d="M1381.7 402.0h4V407.6h1V411.6h-1V417.2h-4V411.6h-1V407.6h1Z" fill="#ef5350"/><path d="M1384.7 395.4h4V405.4h1V411.6h-1V419.3h-4V411.6h-1V405.4h1Z" fill="#26a69a"/><path d="M1387.7 387.8h4V397.8h1V409.4h-1V477.8h-4V409.4h-1V397.8h1Z" fill="#ef5350"/><path d="M1390.7 368.3h4V376.0h1V401.8h-1V411.7h-4V401.8h-1V376.0h1Z" fill="#26a69a"/><path d="M1393.7 324.8h4V346.2h1V380.0h-1V387.8h-4V380.0h-1V346.2h1Z" fill="#26a69a"/><path d="M1396.7 324.8h4V329.8h1V350.2h-1V371.5h-4V350.2h-1V329.8h1Z" fill="#ef5350"/><path d="M1399.7 248.7h4V298.9h1V333.8h-1V338.9h-4V333.8h-1V298.9h1Z" fill="#26a69a"/><path d="M1402.7 272.6h4V298.9h1V302.9h-1V329.1h-4V302.9h-1V298.9h1Z" fill="#26a69a"/><path d="M1405.7 236.7h4V274.4h1V302.9h-1V554.8h-4V302.9h-1V274.4h1Z" fill="#ef5350"/><path d="M1408.7 200.9h4V274.4h1V284.4h-1V316.1h-4V284.4h-1V274.4h1Z" fill="#ef5350"/><path d="M1411.6 248.7h4V279.3h1V284.4h-1V343.3h-4V284.4h-1V279.3h1Z" fill="#26a69a"/><path d="M1414.6 259.6h4V279.3h1V283.3h-1V303.0h-4V283.3h-1V279.3h1Z" fill="#ef5350"/><path d="M1417.6 250.9h4V279.3h1V295.3h-1V332.4h-4V295.3h-1V279.3h1Z" fill="#26a69a"/><path d="M1420.6 261.7h4V291.3h1V305.0h-1V324.8h-4V305.0h-1V291.3h1Z" fill="#26a69a"/><path d="M1423.6 285.7h4V301.0h1V305.0h-1V320.4h-4V305.0h-1V301.0h1Z" fill="#ef5350"/><path d="M1426.6 282.4h4V301.0h1V314.8h-1V322.6h-4V314.8h-1V301.0h1Z" fill="#ef5350"/><path d="M1429.6 303.0h4V310.8h1V329.0h-1V391.1h-4V329.0h-1V310.8h1Z" fill="#ef5350"/><path d="M1432.6 300.9h4V316.3h1V329.0h-1V350.9h-4V329.0h-1V316.3h1Z" fill="#ef5350"/><path d="M1435.6 283.5h4V295.6h1V320.3h-1V335.7h-4V320.3h-1V295.6h1Z" fill="#26a69a"/><path d="M1438.6 263.9h4V285.8h1V299.6h-1V311.7h-4V299.6h-1V285.8h1Z" fill="#26a69a"/><path d="M1441.6 262.8h4V285.8h1V314.8h-1V322.6h-4V314.8h-1V285.8h1Z" fill="#ef5350"/><path d="M1444.6 303.0h4V310.8h1V325.7h-1V335.7h-4V325.7h-1V310.8h1Z" fill="#ef5350"/><path d="M1447.6 311.7h4V321.7h1V350.7h-1V385.7h-4V350.7h-1V321.7h1Z" fill="#ef5350"/><path d="M1450.6 300.9h4V346.7h1V356.1h-1V442.2h-4V356.1h-1V346.7h1Z" fill="#26a69a"/><path d="M1453.6 309.6h4V352.1h1V379.0h-1V398.7h-4V379.0h-1V352.1h1Z" fill="#ef5350"/><path d="M1456.6 355.2h4V375.0h1V380.0h-1V400.9h-4V380.0h-1V375.0h1Z" fill="#26a69a"/><path d="M1459.6 355.2h4V375.0h1V380.0h-1V408.5h-4V380.0h-1V375.0h1Z" fill="#26a69a"/><path d="M1462.5 344.3h4V375.0h1V393.1h-1V398.7h-4V393.1h-1V375.0h1Z" fill="#26a69a"/><path d="M1465.5 383.5h4V389.1h1V393.1h-1V398.7h-4V393.1h-1V389.1h1Z" fill="#ef5350"/><path d="M1468.5 377.0h4V388.0h1V393.1h-1V410.7h-4V393.1h-1V388.0h1Z" fill="#26a69a"/><path d="M1471.5 362.8h4V380.9h1V392.0h-1V403.0h-4V392.0h-1V380.9h1Z" fill="#26a69a"/><path d="M1474.5 358.5h4V380.9h1V398.5h-1V418.3h-4V398.5h-1V380.9h1Z" fill="#ef5350"/><path d="M1477.5 374.8h4V394.5h1V401.2h-1V423.7h-4V401.2h-1V394.5h1Z" fill="#26a69a"/><path d="M1480.5 377.0h4V396.7h1V401.2h-1V421.5h-4V401.2h-1V396.7h1Z" fill="#ef5350"/><path d="M1483.5 381.3h4V396.7h1V404.5h-1V416.1h-4V404.5h-1V396.7h1Z" fill="#26a69a"/><path d="M1486.5 391.1h4V400.5h1V406.1h-1V413.9h-4V406.1h-1V400.5h1Z" fill="#ef5350"/><path d="M1489.5 394.3h4V402.1h1V419.2h-1V427.0h-4V419.2h-1V402.1h1Z" fill="#ef5350"/><path d="M1492.5 407.4h4V415.2h1V420.3h-1V429.1h-4V420.3h-1V415.2h1Z" fill="#26a69a"/><path d="M1495.5 398.7h4V410.8h1V420.3h-1V449.8h-4V420.3h-1V410.8h1Z" fill="#26a69a"/><path d="M1498.5 381.3h4V404.3h1V414.8h-1V427.0h-4V414.8h-1V404.3h1Z" fill="#26a69a"/><path d="M1501.5 392.2h4V404.3h1V408.3h-1V420.4h-4V408.3h-1V404.3h1Z" fill="#26a69a"/><path d="M1504.5 367.2h4V404.3h1V410.5h-1V431.3h-4V410.5h-1V404.3h1Z" fill="#ef5350"/><path d="M1507.5 400.9h4V406.5h1V412.5h-1V416.1h-4V412.5h-1V406.5h1Z" fill="#26a69a"/><path d="M1510.4 404.8h4V408.5h1V419.3h-1V424.7h-4V419.3h-1V408.5h1Z" fill="#ef5350"/><path d="M1513.4 409.8h4V415.3h1V475.2h-1V480.6h-4V475.2h-1V415.3h1Z" fill="#ef5350"/><path d="M1516.4 465.7h4V471.2h1V542.2h-1V565.1h-4V542.2h-1V471.2h1Z" fill="#ef5350"/><path d="M1519.4 515.4h4V538.2h1V574.5h-1V621.0h-4V574.5h-1V538.2h1Z" fill="#ef5350"/><path d="M1522.4 546.5h4V570.5h1V579.5h-1V598.6h-4V579.5h-1V570.5h1Z" fill="#26a69a"/><path d="M1525.4 556.4h4V565.6h1V579.5h-1V664.5h-4V579.5h-1V565.6h1Z" fill="#ef5350"/><path d="M1528.4 540.2h4V555.0h1V569.6h-1V578.8h-4V569.6h-1V555.0h1Z" fill="#26a69a"/><path d="M1531.4 412.3h4V499.7h1V559.0h-1V573.8h-4V559.0h-1V499.7h1Z" fill="#26a69a"/><path d="M1534.4 429.7h4V499.7h1V555.9h-1V573.8h-4V555.9h-1V499.7h1Z" fill="#ef5350"/><path d="M1537.4 534.0h4V550.0h1V555.9h-1V626.0h-4V555.9h-1V550.0h1Z" fill="#26a69a"/><path d="M1540.4 516.6h4V541.4h1V554.0h-1V570.1h-4V554.0h-1V541.4h1Z" fill="#26a69a"/><path d="M1543.4 503.0h4V541.4h1V559.0h-1V591.2h-4V559.0h-1V541.4h1Z" fill="#ef5350"/><path d="M1546.4 522.9h4V555.0h1V602.4h-1V612.3h-4V602.4h-1V555.0h1Z" fill="#ef5350"/><path d="M1549.4 588.4h4V598.4h1V641.4h-1V685.3h-4V641.4h-1V598.4h1Z" fill="#ef5350"/><path d="M1552.4 593.5h4V637.4h1V669.1h-1V719.6h-4V669.1h-1V637.4h1Z" fill="#ef5350"/><path d="M1555.4 626.8h4V665.1h1V677.7h-1V707.5h-4V677.7h-1V665.1h1Z" fill="#ef5350"/><path d="M1558.4 643.9h4V660.6h1V677.7h-1V732.7h-4V677.7h-1V660.6h1Z" fill="#26a69a"/><path d="M1561.3 621.7h4V653.0h1V664.6h-1V681.2h-4V664.6h-1V653.0h1Z" fill="#26a69a"/><path d="M1564.3 628.8h4V649.5h1V657.0h-1V687.3h-4V657.0h-1V649.5h1Z" fill="#ef5350"/><path d="M1567.3 614.7h4V649.5h1V655.0h-1V674.2h-4V655.0h-1V649.5h1Z" fill="#26a69a"/><path d="M1570.3 634.8h4V645.9h1V655.0h-1V671.2h-4V655.0h-1V645.9h1Z" fill="#26a69a"/><path d="M1573.3 618.7h4V640.4h1V649.9h-1V661.1h-4V649.9h-1V640.4h1Z" fill="#ef5350"/><path d="M1576.3 627.8h4V640.4h1V648.9h-1V657.0h-4V648.9h-1V640.4h1Z" fill="#26a69a"/><path d="M1579.3 636.9h4V644.9h1V649.9h-1V678.2h-4V649.9h-1V644.9h1Z" fill="#ef5350"/><path d="M1582.3 594.5h4V613.2h1V649.9h-1V659.0h-4V649.9h-1V613.2h1Z" fill="#26a69a"/><path d="M1585.3 590.4h4V613.2h1V628.8h-1V635.8h-4V628.8h-1V613.2h1Z" fill="#ef5350"/><path d="M1588.3 617.7h4V624.8h1V629.3h-1V638.9h-4V629.3h-1V624.8h1Z" fill="#26a69a"/><path d="M1591.3 622.7h4V624.8h1V629.3h-1V631.8h-4V629.3h-1V624.8h1Z" fill="#ef5350"/><path d="M1594.3 597.5h4V598.0h1V628.8h-1V630.8h-4V628.8h-1V598.0h1Z" fill="#26a69a"/><path d="M1597.3 560.2h4V577.9h1V602.0h-1V602.6h-4V602.0h-1V577.9h1Z" fill="#26a69a"/><path d="M1600.3 561.2h4V577.9h1V583.4h-1V598.5h-4V583.4h-1V577.9h1Z" fill="#26a69a"/><path d="M1603.3 564.2h4V579.4h1V601.5h-1V628.8h-4V601.5h-1V579.4h1Z" fill="#ef5350"/><path d="M1606.3 570.3h4V597.5h1V612.6h-1V644.9h-4V612.6h-1V597.5h1Z" fill="#ef5350"/><path d="M1609.2 576.3h4V608.6h1V641.4h-1V659.0h-4V641.4h-1V608.6h1Z" fill="#ef5350"/><path d="M1612.2 619.7h4V637.4h1V644.9h-1V659.0h-4V644.9h-1V637.4h1Z" fill="#ef5350"/><path d="M1615.2 626.8h4V640.7h1V644.9h-1V664.1h-4V644.9h-1V640.7h1Z" fill="#26a69a"/><path d="M1618.2 613.6h4V631.3h1V644.7h-1V658.5h-4V644.7h-1V631.3h1Z" fill="#26a69a"/><path d="M1621.2 600.5h4V624.8h1V635.3h-1V653.0h-4V635.3h-1V624.8h1Z" fill="#ef5350"/><path d="M1624.2 573.3h4V624.8h1V632.8h-1V659.0h-4V632.8h-1V624.8h1Z" fill="#ef5350"/><path d="M1627.2 602.6h4V628.8h1V660.0h-1V695.4h-4V660.0h-1V628.8h1Z" fill="#ef5350"/><path d="M1630.2 632.8h4V656.0h1V661.0h-1V683.3h-4V661.0h-1V656.0h1Z" fill="#26a69a"/><path d="M1633.2 638.9h4V657.0h1V665.1h-1V679.2h-4V665.1h-1V657.0h1Z" fill="#ef5350"/><path d="M1636.2 646.9h4V661.1h1V712.0h-1V741.8h-4V712.0h-1V661.1h1Z" fill="#ef5350"/><path d="M1639.2 678.2h4V708.0h1V720.1h-1V780.1h-4V720.1h-1V708.0h1Z" fill="#26a69a"/><path d="M1642.2 685.3h4V716.1h1V720.1h-1V750.9h-4V720.1h-1V716.1h1Z" fill="#ef5350"/><path d="M1645.2 645.9h4V697.9h1V720.1h-1V777.1h-4V720.1h-1V697.9h1Z" fill="#26a69a"/><path d="M1648.2 658.0h4V697.9h1V710.5h-1V741.8h-4V710.5h-1V697.9h1Z" fill="#ef5350"/><path d="M1651.2 675.2h4V684.3h1V710.5h-1V743.8h-4V710.5h-1V684.3h1Z" fill="#26a69a"/><path d="M1654.2 656.0h4V671.7h1V688.3h-1V697.4h-4V688.3h-1V671.7h1Z" fill="#26a69a"/><path d="M1657.1 654.0h4V669.7h1V675.7h-1V691.3h-4V675.7h-1V669.7h1Z" fill="#ef5350"/><path d="M1660.1 658.0h4V669.7h1V673.7h-1V685.3h-4V673.7h-1V669.7h1Z" fill="#26a69a"/><path d="M1663.1 644.9h4V669.7h1V681.7h-1V693.3h-4V681.7h-1V669.7h1Z" fill="#ef5350"/><path d="M1666.1 666.1h4V674.7h1V681.7h-1V694.4h-4V681.7h-1V674.7h1Z" fill="#ef5350"/><path d="M1669.1 663.1h4V672.2h1V678.7h-1V687.3h-4V678.7h-1V672.2h1Z" fill="#26a69a"/><path d="M1672.1 669.1h4V672.2h1V676.2h-1V679.2h-4V676.2h-1V672.2h1Z" fill="#ef5350"/><path d="M1675.1 665.1h4V672.2h1V677.7h-1V681.2h-4V677.7h-1V672.2h1Z" fill="#26a69a"/><path d="M1678.1 670.1h4V671.7h1V677.7h-1V684.3h-4V677.7h-1V671.7h1Z" fill="#ef5350"/><path d="M1681.1 637.9h4V643.4h1V675.7h-1V677.2h-4V675.7h-1V643.4h1Z" fill="#26a69a"/><path d="M1684.1 553.1h4V569.2h1V647.4h-1V653.0h-4V647.4h-1V569.2h1Z" fill="#26a69a"/><path d="M1687.1 544.3h4V563.7h1V573.2h-1V589.3h-4V573.2h-1V563.7h1Z" fill="#26a69a"/><path d="M1690.1 548.8h4V554.1h1V567.7h-1V582.5h-4V567.7h-1V554.1h1Z" fill="#ef5350"/><path d="M1693.1 526.3h4V541.2h1V558.1h-1V563.4h-4V558.1h-1V541.2h1Z" fill="#26a69a"/><path d="M1696.1 531.9h4V539.5h1V545.2h-1V554.4h-4V545.2h-1V539.5h1Z" fill="#ef5350"/><path d="M1699.1 534.1h4V539.5h1V543.5h-1V548.8h-4V543.5h-1V539.5h1Z" fill="#ef5350"/><path d="M1702.1 527.4h4V539.5h1V546.3h-1V564.5h-4V546.3h-1V539.5h1Z" fill="#26a69a"/><path d="M1705.1 533.0h4V542.3h1V547.4h-1V555.5h-4V547.4h-1V542.3h1Z" fill="#ef5350"/><path d="M1708.0 535.3h4V537.8h1V547.4h-1V565.7h-4V547.4h-1V537.8h1Z" fill="#26a69a"/><path d="M1711.0 495.9h4V511.3h1V541.8h-1V544.3h-4V541.8h-1V511.3h1Z" fill="#26a69a"/><path d="M1714.0 502.6h4V511.3h1V518.1h-1V524.0h-4V518.1h-1V511.3h1Z" fill="#ef5350"/><path d="M1717.0 508.3h4V514.1h1V527.4h-1V543.2h-4V527.4h-1V514.1h1Z" fill="#ef5350"/><path d="M1720.0 507.1h4V522.6h1V527.4h-1V542.6h-4V527.4h-1V522.6h1Z" fill="#ef5350"/><path d="M1723.0 506.0h4V522.6h1V527.1h-1V542.0h-4V527.1h-1V522.6h1Z" fill="#26a69a"/><path d="M1726.0 508.3h4V509.6h1V527.1h-1V556.7h-4V527.1h-1V509.6h1Z" fill="#26a69a"/><path d="M1729.0 498.1h4V498.1h1V513.6h-1V515.0h-4V513.6h-1V498.1h1Z" fill="#26a69a"/><path d="M1732.0 400.3h4V418.5h1V499.3h-1V499.3h-4V499.3h-1V418.5h1Z" fill="#26a69a"/><path d="M1735.0 410.4h4V413.5h1V422.5h-1V430.6h-4V422.5h-1V413.5h1Z" fill="#ef5350"/><path d="M1738.0 393.5h4V404.4h1V417.5h-1V420.5h-4V417.5h-1V404.4h1Z" fill="#26a69a"/><path d="M1741.0 396.9h4V404.4h1V408.4h-1V416.0h-4V408.4h-1V404.4h1Z" fill="#ef5350"/><path d="M1744.0 368.8h4V400.5h1V408.4h-1V429.5h-4V408.4h-1V400.5h1Z" fill="#ef5350"/><path d="M1747.0 384.5h4V400.5h1V409.0h-1V420.5h-4V409.0h-1V400.5h1Z" fill="#26a69a"/><path d="M1750.0 393.5h4V405.0h1V409.0h-1V420.5h-4V409.0h-1V405.0h1Z" fill="#ef5350"/><path d="M1753.0 392.4h4V399.9h1V409.0h-1V430.6h-4V409.0h-1V399.9h1Z" fill="#26a69a"/><path d="M1755.9 384.5h4V399.9h1V404.5h-1V411.5h-4V404.5h-1V399.9h1Z" fill="#ef5350"/><path d="M1758.9 393.5h4V398.3h1V404.5h-1V412.6h-4V404.5h-1V398.3h1Z" fill="#ef5350"/><path d="M1761.9 362.0h4V382.5h1V402.3h-1V407.0h-4V402.3h-1V382.5h1Z" fill="#26a69a"/><path d="M1764.9 356.4h4V378.0h1V386.5h-1V430.6h-4V386.5h-1V378.0h1Z" fill="#ef5350"/><path d="M1767.9 359.8h4V371.3h1V382.0h-1V400.3h-4V382.0h-1V371.3h1Z" fill="#26a69a"/><path d="M1770.9 324.9h4V341.4h1V375.3h-1V386.8h-4V375.3h-1V341.4h1Z" fill="#26a69a"/><path d="M1773.9 302.4h4V332.4h1V345.4h-1V362.0h-4V345.4h-1V332.4h1Z" fill="#26a69a"/><path d="M1776.9 306.9h4V332.4h1V365.1h-1V381.1h-4V365.1h-1V332.4h1Z" fill="#ef5350"/><path d="M1779.9 346.3h4V361.1h1V365.7h-1V380.0h-4V365.7h-1V361.1h1Z" fill="#26a69a"/><path d="M1782.9 347.4h4V353.8h1V365.7h-1V382.3h-4V365.7h-1V353.8h1Z" fill="#26a69a"/><path d="M1785.9 336.1h4V348.2h1V357.8h-1V364.3h-4V357.8h-1V348.2h1Z" fill="#26a69a"/><path d="M1788.9 329.4h4V348.2h1V361.2h-1V375.5h-4V361.2h-1V348.2h1Z" fill="#ef5350"/><path d="M1791.9 342.9h4V357.2h1V364.0h-1V380.0h-4V364.0h-1V357.2h1Z" fill="#ef5350"/><path d="M1794.9 344.0h4V360.0h1V394.4h-1V400.3h-4V394.4h-1V360.0h1Z" fill="#ef5350"/><path d="M1797.9 384.5h4V390.4h1V406.8h-1V418.3h-4V406.8h-1V390.4h1Z" fill="#ef5350"/><path d="M1800.9 391.3h4V400.5h1V406.8h-1V425.0h-4V406.8h-1V400.5h1Z" fill="#26a69a"/><path d="M1803.9 392.4h4V400.5h1V404.5h-1V412.6h-4V404.5h-1V400.5h1Z" fill="#ef5350"/><path d="M1806.8 391.3h4V399.4h1V404.5h-1V428.4h-4V404.5h-1V399.4h1Z" fill="#ef5350"/><path d="M1809.8 382.3h4V399.4h1V404.5h-1V411.5h-4V404.5h-1V399.4h1Z" fill="#26a69a"/><path d="M1812.8 393.5h4V400.5h1V414.6h-1V420.5h-4V414.6h-1V400.5h1Z" fill="#ef5350"/><path d="M1815.8 404.8h4V410.6h1V437.1h-1V474.5h-4V437.1h-1V410.6h1Z" fill="#ef5350"/><path d="M1818.8 398.0h4V400.5h1V437.1h-1V465.5h-4V437.1h-1V400.5h1Z" fill="#26a69a"/><path d="M1821.8 398.0h4V400.5h1V404.5h-1V407.0h-4V404.5h-1V400.5h1Z" fill="#26a69a"/><path d="M1824.8 378.9h4V387.6h1V404.5h-1V408.1h-4V404.5h-1V387.6h1Z" fill="#26a69a"/><path d="M1827.8 339.5h4V358.3h1V391.6h-1V400.3h-4V391.6h-1V358.3h1Z" fill="#26a69a"/><path d="M1830.8 342.9h4V358.3h1V362.3h-1V377.8h-4V362.3h-1V358.3h1Z" fill="#ef5350"/><path d="M1833.8 342.9h4V358.3h1V377.7h-1V384.5h-4V377.7h-1V358.3h1Z" fill="#ef5350"/><path d="M1836.8 366.9h4V373.7h1V420.3h-1V425.4h-4V420.3h-1V373.7h1Z" fill="#ef5350"/><path d="M1839.8 411.2h4V416.3h1V425.3h-1V454.6h-4V425.3h-1V416.3h1Z" fill="#26a69a"/><path d="M1842.8 411.2h4V419.3h1V425.3h-1V435.5h-4V425.3h-1V419.3h1Z" fill="#ef5350"/><path d="M1845.8 411.2h4V417.3h1V423.3h-1V431.4h-4V423.3h-1V417.3h1Z" fill="#26a69a"/><path d="M1848.8 376.9h4V408.7h1V421.3h-1V427.4h-4V421.3h-1V408.7h1Z" fill="#26a69a"/><path d="M1851.8 394.1h4V408.7h1V428.9h-1V442.5h-4V428.9h-1V408.7h1Z" fill="#ef5350"/><path d="M1854.7 415.3h4V424.9h1V428.9h-1V438.5h-4V428.9h-1V424.9h1Z" fill="#26a69a"/><path d="M1857.7 415.3h4V424.9h1V439.5h-1V459.7h-4V439.5h-1V424.9h1Z" fill="#ef5350"/><path d="M1860.7 404.2h4V435.5h1V451.1h-1V460.7h-4V451.1h-1V435.5h1Z" fill="#ef5350"/><path d="M1863.7 437.5h4V447.1h1V464.2h-1V476.8h-4V464.2h-1V447.1h1Z" fill="#ef5350"/><path d="M1866.7 447.6h4V460.2h1V472.8h-1V510.1h-4V472.8h-1V460.2h1Z" fill="#ef5350"/><path d="M1869.7 418.3h4V421.9h1V472.8h-1V494.0h-4V472.8h-1V421.9h1Z" fill="#26a69a"/><path d="M1872.7 418.3h4V418.8h1V425.9h-1V429.4h-4V425.9h-1V418.8h1Z" fill="#26a69a"/><path d="M1875.7 393.1h4V410.8h1V422.8h-1V423.3h-4V422.8h-1V410.8h1Z" fill="#26a69a"/><path d="M1878.7 402.2h4V410.8h1V415.8h-1V423.3h-4V415.8h-1V410.8h1Z" fill="#ef5350"/><path d="M1881.7 404.2h4V411.8h1V419.3h-1V429.4h-4V419.3h-1V411.8h1Z" fill="#ef5350"/><path d="M1884.7 413.3h4V413.3h1V419.3h-1V421.3h-4V419.3h-1V413.3h1Z" fill="#26a69a"/><path d="M1887.7 402.2h4V407.7h1V417.3h-1V417.3h-4V417.3h-1V407.7h1Z" fill="#26a69a"/><path d="M1890.7 399.1h4V407.7h1V423.3h-1V431.4h-4V423.3h-1V407.7h1Z" fill="#ef5350"/><path d="M1893.7 411.2h4V419.3h1V433.4h-1V451.6h-4V433.4h-1V419.3h1Z" fill="#ef5350"/><path d="M1896.7 394.1h4V398.6h1V433.4h-1V454.6h-4V433.4h-1V398.6h1Z" fill="#26a69a"/><path d="M1899.7 383.0h4V397.6h1V402.6h-1V407.2h-4V402.6h-1V397.6h1Z" fill="#26a69a"/><path d="M1902.7 392.1h4V397.6h1V410.7h-1V421.3h-4V410.7h-1V397.6h1Z" fill="#ef5350"/><path d="M1905.6 401.2h4V406.2h1V410.7h-1V416.3h-4V410.7h-1V406.2h1Z" fill="#26a69a"/><path d="M1908.6 394.1h4V400.7h1V410.2h-1V415.3h-4V410.2h-1V400.7h1Z" fill="#26a69a"/><path d="M1911.6 394.1h4V400.7h1V404.7h-1V411.2h-4V404.7h-1V400.7h1Z" fill="#ef5350"/><path d="M1914.6 394.1h4V394.1h1V404.7h-1V418.3h-4V404.7h-1V394.1h1Z" fill="#26a69a"/><path d="M1917.6 359.3h4V365.0h1V391.9h-1V391.9h-4V391.9h-1V365.0h1Z" fill="#26a69a"/><path d="M1920.6 296.4h4V301.7h1V369.0h-1V374.8h-4V369.0h-1V301.7h1Z" fill="#26a69a"/><path d="M1923.6 274.6h4V290.5h1V305.7h-1V311.1h-4V305.7h-1V290.5h1Z" fill="#26a69a"/><path d="M1926.6 283.2h4V287.4h1V294.5h-1V301.8h-4V294.5h-1V287.4h1Z" fill="#ef5350"/><path d="M1929.6 262.2h4V273.8h1V291.4h-1V295.6h-4V291.4h-1V273.8h1Z" fill="#26a69a"/><path d="M1932.6 226.5h4V268.4h1V277.8h-1V289.4h-4V277.8h-1V268.4h1Z" fill="#26a69a"/><path d="M1935.6 251.3h4V264.1h1V272.4h-1V300.2h-4V272.4h-1V264.1h1Z" fill="#ef5350"/><path d="M1938.6 245.1h4V259.0h1V268.1h-1V280.8h-4V268.1h-1V259.0h1Z" fill="#26a69a"/><path d="M1941.6 228.0h4V253.2h1V263.0h-1V277.0h-4V263.0h-1V253.2h1Z" fill="#26a69a"/><path d="M1944.6 233.5h4V253.2h1V274.7h-1V283.9h-4V274.7h-1V253.2h1Z" fill="#ef5350"/><path d="M1947.6 261.4h4V270.7h1V276.2h-1V287.0h-4V276.2h-1V270.7h1Z" fill="#ef5350"/><path d="M1950.6 260.7h4V272.2h1V277.8h-1V293.3h-4V277.8h-1V272.2h1Z" fill="#ef5350"/><path d="M1953.5 251.3h4V271.9h1V277.8h-1V290.9h-4V277.8h-1V271.9h1Z" fill="#ef5350"/><path d="M1956.5 256.8h4V271.9h1V279.3h-1V300.2h-4V279.3h-1V271.9h1Z" fill="#26a69a"/><path d="M1959.5 257.5h4V275.3h1V284.4h-1V297.1h-4V284.4h-1V275.3h1Z" fill="#ef5350"/><path d="M1962.5 267.6h4V280.4h1V290.6h-1V297.1h-4V290.6h-1V280.4h1Z" fill="#ef5350"/><path d="M1965.5 280.1h4V285.8h1V290.6h-1V326.6h-4V290.6h-1V285.8h1Z" fill="#ef5350"/><path d="M1968.5 264.5h4V275.7h1V289.8h-1V295.6h-4V289.8h-1V275.7h1Z" fill="#26a69a"/><path d="M1971.5 257.5h4V262.1h1V279.7h-1V290.9h-4V279.7h-1V262.1h1Z" fill="#26a69a"/><path d="M1974.5 243.6h4V255.2h1V266.1h-1V270.7h-4V266.1h-1V255.2h1Z" fill="#26a69a"/><path d="M1977.5 241.2h4V254.8h1V259.2h-1V272.3h-4V259.2h-1V254.8h1Z" fill="#26a69a"/><path d="M1980.5 242.8h4V254.8h1V258.8h-1V270.7h-4V258.8h-1V254.8h1Z" fill="#26a69a"/><path d="M1983.5 231.9h4V254.8h1V272.0h-1V273.9h-4V272.0h-1V254.8h1Z" fill="#ef5350"/><path d="M1986.5 266.1h4V268.0h1V301.9h-1V331.3h-4V301.9h-1V268.0h1Z" fill="#ef5350"/><path d="M1989.5 268.4h4V297.9h1V323.2h-1V340.6h-4V323.2h-1V297.9h1Z" fill="#ef5350"/><path d="M1992.5 301.8h4V312.2h1V323.2h-1V341.4h-4V323.2h-1V312.2h1Z" fill="#26a69a"/><path d="M1995.5 291.7h4V309.1h1V316.2h-1V326.6h-4V316.2h-1V309.1h1Z" fill="#26a69a"/><path d="M1998.5 295.6h4V309.1h1V315.4h-1V330.5h-4V315.4h-1V309.1h1Z" fill="#ef5350"/><path d="M2001.4 301.8h4V303.7h1V315.4h-1V325.1h-4V315.4h-1V303.7h1Z" fill="#26a69a"/><path d="M2004.4 277.7h4V286.6h1V307.7h-1V309.6h-4V307.7h-1V286.6h1Z" fill="#26a69a"/><path d="M2007.4 278.5h4V286.6h1V290.6h-1V298.7h-4V290.6h-1V286.6h1Z" fill="#ef5350"/><path d="M2010.4 277.0h4V285.8h1V290.6h-1V298.7h-4V290.6h-1V285.8h1Z" fill="#ef5350"/><path d="M2013.4 256.8h4V260.2h1V289.8h-1V298.7h-4V289.8h-1V260.2h1Z" fill="#26a69a"/><path d="M2016.4 224.9h4V254.8h1V264.2h-1V267.6h-4V264.2h-1V254.8h1Z" fill="#ef5350"/><path d="M2019.4 247.5h4V254.8h1V258.8h-1V266.1h-4V258.8h-1V254.8h1Z" fill="#26a69a"/><path d="M2022.4 216.4h4V239.2h1V258.8h-1V266.1h-4V258.8h-1V239.2h1Z" fill="#26a69a"/><path d="M2025.4 207.9h4V239.2h1V270.4h-1V280.1h-4V270.4h-1V239.2h1Z" fill="#ef5350"/><path d="M2028.4 256.8h4V266.4h1V285.2h-1V293.3h-4V285.2h-1V266.4h1Z" fill="#ef5350"/><path d="M2031.4 279.3h4V281.2h1V285.2h-1V287.0h-4V285.2h-1V281.2h1Z" fill="#26a69a"/><path d="M2034.4 270.0h4V281.2h1V292.2h-1V297.1h-4V292.2h-1V281.2h1Z" fill="#ef5350"/><path d="M2037.4 283.2h4V288.2h1V303.8h-1V339.1h-4V303.8h-1V288.2h1Z" fill="#ef5350"/><path d="M2040.4 284.7h4V299.8h1V318.9h-1V318.9h-4V318.9h-1V299.8h1Z" fill="#ef5350"/><path d="M2043.4 316.6h4V316.6h1V332.1h-1V345.3h-4V332.1h-1V316.6h1Z" fill="#26a69a"/><path d="M2046.4 312.7h4V326.2h1V332.1h-1V343.7h-4V332.1h-1V326.2h1Z" fill="#ef5350"/><path d="M2049.4 290.2h4V313.8h1V330.2h-1V349.2h-4V330.2h-1V313.8h1Z" fill="#26a69a"/><path d="M2052.3 301.0h4V313.8h1V327.1h-1V330.5h-4V327.1h-1V313.8h1Z" fill="#ef5350"/><path d="M2055.3 319.7h4V323.1h1V357.4h-1V376.3h-4V357.4h-1V323.1h1Z" fill="#ef5350"/><path d="M2058.3 334.4h4V353.4h1V363.5h-1V380.2h-4V363.5h-1V353.4h1Z" fill="#ef5350"/><path d="M2061.3 342.8h4V350.6h1V363.5h-1V391.7h-4V363.5h-1V350.6h1Z" fill="#26a69a"/><path d="M2064.3 334.1h4V346.3h1V354.6h-1V362.4h-4V354.6h-1V346.3h1Z" fill="#ef5350"/><path d="M2067.3 330.9h4V346.3h1V355.7h-1V363.5h-4V355.7h-1V346.3h1Z" fill="#26a69a"/><path d="M2070.3 343.9h4V351.7h1V403.5h-1V411.3h-4V403.5h-1V351.7h1Z" fill="#ef5350"/><path d="M2073.3 391.7h4V399.5h1V404.1h-1V412.4h-4V404.1h-1V399.5h1Z" fill="#26a69a"/><path d="M2076.3 385.2h4V399.5h1V404.1h-1V420.0h-4V404.1h-1V399.5h1Z" fill="#ef5350"/><path d="M2079.3 354.8h4V373.4h1V403.5h-1V417.8h-4V403.5h-1V373.4h1Z" fill="#26a69a"/><path d="M2082.3 350.4h4V365.8h1V377.4h-1V396.1h-4V377.4h-1V365.8h1Z" fill="#26a69a"/><path d="M2085.3 343.9h4V363.7h1V369.8h-1V385.2h-4V369.8h-1V363.7h1Z" fill="#26a69a"/><path d="M2088.3 350.4h4V363.7h1V367.7h-1V380.9h-4V367.7h-1V363.7h1Z" fill="#ef5350"/><path d="M2091.3 339.6h4V363.7h1V375.8h-1V382.0h-4V375.8h-1V363.7h1Z" fill="#ef5350"/><path d="M2094.3 365.7h4V371.8h1V375.8h-1V382.0h-4V375.8h-1V371.8h1Z" fill="#ef5350"/><path d="M2097.3 361.3h4V365.8h1V375.8h-1V382.0h-4V375.8h-1V365.8h1Z" fill="#26a69a"/><path d="M2100.2 350.4h4V360.4h1V369.8h-1V374.3h-4V369.8h-1V360.4h1Z" fill="#26a69a"/><path d="M2103.2 348.3h4V355.0h1V364.4h-1V375.4h-4V364.4h-1V355.0h1Z" fill="#26a69a"/><path d="M2106.2 328.7h4V333.2h1V359.0h-1V365.7h-4V359.0h-1V333.2h1Z" fill="#26a69a"/><path d="M2109.2 312.4h4V317.5h1V337.2h-1V341.7h-4V337.2h-1V317.5h1Z" fill="#26a69a"/><path d="M2112.2 299.3h4V313.7h1V321.5h-1V326.5h-4V321.5h-1V313.7h1Z" fill="#26a69a"/><path d="M2115.2 307.0h4V313.7h1V317.7h-1V324.3h-4V317.7h-1V313.7h1Z" fill="#ef5350"/><path d="M2118.2 307.0h4V313.7h1V320.4h-1V329.8h-4V320.4h-1V313.7h1Z" fill="#ef5350"/><path d="M2121.2 298.3h4V310.4h1V320.4h-1V333.0h-4V320.4h-1V310.4h1Z" fill="#ef5350"/><path d="M2124.2 304.8h4V310.4h1V314.4h-1V320.0h-4V314.4h-1V310.4h1Z" fill="#26a69a"/><path d="M2127.2 302.6h4V305.0h1V314.4h-1V340.7h-4V314.4h-1V305.0h1Z" fill="#26a69a"/><path d="M2130.2 290.7h4V301.7h1V309.0h-1V311.3h-4V309.0h-1V301.7h1Z" fill="#26a69a"/><path d="M2133.2 296.1h4V301.7h1V313.3h-1V321.1h-4V313.3h-1V301.7h1Z" fill="#ef5350"/><path d="M2136.2 307.0h4V309.3h1V315.5h-1V315.7h-4V315.5h-1V309.3h1Z" fill="#ef5350"/><path d="M2139.2 311.3h4V311.5h1V320.9h-1V322.2h-4V320.9h-1V311.5h1Z" fill="#ef5350"/><path d="M2142.2 315.7h4V316.9h1V349.2h-1V359.1h-4V349.2h-1V316.9h1Z" fill="#ef5350"/><path d="M2145.2 335.2h4V345.2h1V356.8h-1V374.3h-4V356.8h-1V345.2h1Z" fill="#ef5350"/><path d="M2148.2 334.1h4V352.8h1V361.7h-1V378.7h-4V361.7h-1V352.8h1Z" fill="#26a69a"/><path d="M2151.1 340.7h4V357.7h1V387.2h-1V393.9h-4V387.2h-1V357.7h1Z" fill="#ef5350"/><path d="M2154.1 376.5h4V381.0h1V387.2h-1V395.0h-4V387.2h-1V381.0h1Z" fill="#26a69a"/><path d="M2157.1 370.0h4V376.7h1V385.0h-1V389.6h-4V385.0h-1V376.7h1Z" fill="#26a69a"/><path d="M2160.1 350.4h4V361.5h1V380.7h-1V387.4h-4V380.7h-1V361.5h1Z" fill="#26a69a"/><path d="M2163.1 327.6h4V338.1h1V365.5h-1V376.5h-4V365.5h-1V338.1h1Z" fill="#26a69a"/><path d="M2166.1 321.1h4V326.2h1V342.1h-1V352.6h-4V342.1h-1V326.2h1Z" fill="#ef5350"/><path d="M2169.1 274.3h4V281.0h1V330.2h-1V335.2h-4V330.2h-1V281.0h1Z" fill="#26a69a"/><path d="M2172.1 243.9h4V243.9h1V285.0h-1V291.7h-4V285.0h-1V243.9h1Z" fill="#26a69a"/><path d="M2175.1 211.3h4V232.1h1V243.9h-1V243.9h-4V243.9h-1V232.1h1Z" fill="#26a69a"/><path d="M2178.1 224.3h4V228.9h1V236.1h-1V243.9h-4V236.1h-1V228.9h1Z" fill="#ef5350"/><path d="M2181.1 196.1h4V214.7h1V232.9h-1V237.4h-4V232.9h-1V214.7h1Z" fill="#26a69a"/><path d="M2184.1 179.8h4V207.1h1V218.7h-1V237.4h-4V218.7h-1V207.1h1Z" fill="#26a69a"/><path d="M2187.1 183.0h4V207.1h1V212.8h-1V235.2h-4V212.8h-1V207.1h1Z" fill="#ef5350"/><path d="M2190.1 186.3h4V208.8h1V215.5h-1V235.2h-4V215.5h-1V208.8h1Z" fill="#26a69a"/><path d="M2193.1 191.7h4V211.5h1V222.0h-1V239.6h-4V222.0h-1V211.5h1Z" fill="#ef5350"/><path d="M2196.1 200.4h4V218.0h1V244.8h-1V441.7h-4V244.8h-1V218.0h1Z" fill="#ef5350"/><path d="M2199.0 202.6h4V240.8h1V283.0h-1V283.0h-4V283.0h-1V240.8h1Z" fill="#ef5350"/><path d="M2202.0 284.1h4V284.1h1V321.5h-1V357.0h-4V321.5h-1V284.1h1Z" fill="#26a69a"/><path d="M2205.0 286.3h4V317.5h1V324.2h-1V352.6h-4V324.2h-1V317.5h1Z" fill="#26a69a"/><path d="M2208.0 291.7h4V320.2h1V345.4h-1V364.6h-4V345.4h-1V320.2h1Z" fill="#ef5350"/><path d="M2211.0 322.2h4V341.4h1V361.1h-1V370.0h-4V361.1h-1V341.4h1Z" fill="#ef5350"/><path d="M2214.0 348.3h4V357.1h1V381.0h-1V409.1h-4V381.0h-1V357.1h1Z" fill="#ef5350"/><path d="M2217.0 348.9h4V377.0h1V417.1h-1V462.6h-4V417.1h-1V377.0h1Z" fill="#ef5350"/><path d="M2220.0 406.7h4V413.1h1V417.1h-1V423.5h-4V417.1h-1V413.1h1Z" fill="#26a69a"/><path d="M2223.0 380.6h4V392.6h1V417.1h-1V423.5h-4V417.1h-1V392.6h1Z" fill="#26a69a"/><path d="M2226.0 354.5h4V376.8h1V396.6h-1V408.6h-4V396.6h-1V376.8h1Z" fill="#26a69a"/><path d="M2229.0 319.1h4V376.8h1V395.7h-1V403.0h-4V395.7h-1V376.8h1Z" fill="#ef5350"/><path d="M2232.0 384.3h4V391.7h1V395.7h-1V412.3h-4V395.7h-1V391.7h1Z" fill="#ef5350"/><path d="M2235.0 354.5h4V372.1h1V395.7h-1V403.0h-4V395.7h-1V372.1h1Z" fill="#26a69a"/><path d="M2238.0 347.1h4V353.5h1V376.1h-1V393.7h-4V376.1h-1V353.5h1Z" fill="#26a69a"/><path d="M2241.0 341.5h4V341.5h1V357.5h-1V363.8h-4V357.5h-1V341.5h1Z" fill="#26a69a"/><path d="M2244.0 304.2h4V312.5h1V345.2h-1V345.2h-4V345.2h-1V312.5h1Z" fill="#26a69a"/><path d="M2247.0 291.2h4V309.2h1V316.5h-1V324.7h-4V316.5h-1V309.2h1Z" fill="#ef5350"/><path d="M2249.9 297.7h4V309.2h1V337.9h-1V345.2h-4V337.9h-1V309.2h1Z" fill="#ef5350"/><path d="M2252.9 326.6h4V333.9h1V363.1h-1V376.9h-4V363.1h-1V333.9h1Z" fill="#ef5350"/><path d="M2255.9 345.2h4V359.1h1V370.0h-1V412.3h-4V370.0h-1V359.1h1Z" fill="#ef5350"/><path d="M2258.9 347.1h4V356.7h1V370.0h-1V389.0h-4V370.0h-1V356.7h1Z" fill="#26a69a"/><path d="M2261.9 348.0h4V354.9h1V360.7h-1V369.4h-4V360.7h-1V354.9h1Z" fill="#26a69a"/><path d="M2264.9 348.0h4V354.9h1V360.7h-1V365.7h-4V360.7h-1V354.9h1Z" fill="#26a69a"/><path d="M2267.9 351.7h4V356.7h1V408.7h-1V419.7h-4V408.7h-1V356.7h1Z" fill="#ef5350"/><path d="M2270.9 393.7h4V404.7h1V464.6h-1V498.9h-4V464.6h-1V404.7h1Z" fill="#ef5350"/><path d="M2273.9 426.3h4V458.3h1V464.6h-1V499.9h-4V464.6h-1V458.3h1Z" fill="#26a69a"/><path d="M2276.9 432.8h4V458.3h1V466.9h-1V487.8h-4V466.9h-1V458.3h1Z" fill="#ef5350"/><path d="M2279.9 442.1h4V461.1h1V466.9h-1V503.6h-4V466.9h-1V461.1h1Z" fill="#26a69a"/><path d="M2282.9 449.6h4V461.1h1V465.1h-1V476.6h-4V465.1h-1V461.1h1Z" fill="#ef5350"/><path d="M2285.9 423.5h4V440.1h1V465.1h-1V476.6h-4V465.1h-1V440.1h1Z" fill="#26a69a"/><path d="M2288.9 408.6h4V430.8h1V444.1h-1V460.7h-4V444.1h-1V430.8h1Z" fill="#26a69a"/><path d="M2291.9 397.4h4V430.8h1V444.1h-1V457.0h-4V444.1h-1V430.8h1Z" fill="#ef5350"/><path d="M2294.9 427.2h4V440.1h1V478.1h-1V487.0h-4V478.1h-1V440.1h1Z" fill="#ef5350"/><path d="M2297.8 465.2h4V474.1h1V518.2h-1V527.7h-4V518.2h-1V474.1h1Z" fill="#ef5350"/><path d="M2300.8 504.6h4V514.2h1V560.3h-1V578.0h-4V560.3h-1V514.2h1Z" fill="#ef5350"/><path d="M2303.8 544.0h4V556.3h1V561.6h-1V572.6h-4V561.6h-1V556.3h1Z" fill="#26a69a"/><path d="M2306.8 546.7h4V557.6h1V574.6h-1V592.9h-4V574.6h-1V557.6h1Z" fill="#ef5350"/><path d="M2309.8 552.2h4V570.6h1V596.3h-1V612.0h-4V596.3h-1V570.6h1Z" fill="#ef5350"/><path d="M2312.8 576.6h4V592.3h1V611.2h-1V639.1h-4V611.2h-1V592.3h1Z" fill="#26a69a"/><path d="M2315.8 579.3h4V607.2h1V614.0h-1V644.6h-4V614.0h-1V607.2h1Z" fill="#ef5350"/><path d="M2318.8 579.3h4V610.0h1V665.6h-1V671.7h-4V665.6h-1V610.0h1Z" fill="#ef5350"/><path d="M2321.8 655.4h4V661.6h1V688.7h-1V741.0h-4V688.7h-1V661.6h1Z" fill="#ef5350"/><path d="M2324.8 671.7h4V677.9h1V688.7h-1V701.6h-4V688.7h-1V677.9h1Z" fill="#ef5350"/><path d="M2327.8 641.8h4V660.2h1V681.9h-1V688.0h-4V681.9h-1V660.2h1Z" fill="#26a69a"/><path d="M2330.8 629.6h4V656.2h1V664.2h-1V682.6h-4V664.2h-1V656.2h1Z" fill="#26a69a"/><path d="M2333.8 641.8h4V654.8h1V660.2h-1V674.5h-4V660.2h-1V654.8h1Z" fill="#ef5350"/><path d="M2336.8 618.8h4V626.9h1V658.8h-1V671.7h-4V658.8h-1V626.9h1Z" fill="#26a69a"/><path d="M2339.8 599.7h4V609.3h1V630.9h-1V639.1h-4V630.9h-1V609.3h1Z" fill="#26a69a"/><path d="M2342.8 584.8h4V609.3h1V614.6h-1V622.8h-4V614.6h-1V609.3h1Z" fill="#ef5350"/><path d="M2345.7 602.4h4V610.6h1V614.6h-1V622.8h-4V614.6h-1V610.6h1Z" fill="#ef5350"/><path d="M2348.7 601.1h4V610.6h1V625.5h-1V625.5h-4V625.5h-1V610.6h1Z" fill="#ef5350"/><path d="M2351.7 625.5h4V625.5h1V653.4h-1V709.8h-4V653.4h-1V625.5h1Z" fill="#ef5350"/><path d="M2354.7 601.1h4V615.4h1V653.4h-1V677.2h-4V653.4h-1V615.4h1Z" fill="#26a69a"/><path d="M2357.7 580.7h4V601.8h1V619.4h-1V633.7h-4V619.4h-1V601.8h1Z" fill="#26a69a"/><path d="M2360.7 582.1h4V601.8h1V614.0h-1V625.5h-4V614.0h-1V601.8h1Z" fill="#ef5350"/><path d="M2363.7 598.4h4V610.0h1V627.5h-1V655.4h-4V627.5h-1V610.0h1Z" fill="#ef5350"/><path d="M2366.7 606.5h4V623.5h1V628.9h-1V644.6h-4V628.9h-1V623.5h1Z" fill="#26a69a"/><path d="M2369.7 609.2h4V620.8h1V628.9h-1V659.5h-4V628.9h-1V620.8h1Z" fill="#26a69a"/><path d="M2372.7 606.5h4V619.5h1V624.8h-1V636.4h-4V624.8h-1V619.5h1Z" fill="#26a69a"/><path d="M2375.7 572.6h4V596.4h1V623.5h-1V636.4h-4V623.5h-1V596.4h1Z" fill="#26a69a"/><path d="M2378.7 579.3h4V596.4h1V608.5h-1V617.4h-4V608.5h-1V596.4h1Z" fill="#ef5350"/><path d="M2381.7 595.7h4V604.5h1V627.5h-1V650.0h-4V627.5h-1V604.5h1Z" fill="#26a69a"/><path d="M2384.7 606.5h4V623.5h1V641.1h-1V644.6h-4V641.1h-1V623.5h1Z" fill="#ef5350"/><path d="M2387.7 633.7h4V637.1h1V655.4h-1V671.7h-4V655.4h-1V637.1h1Z" fill="#ef5350"/><path d="M2390.7 635.1h4V651.4h1V671.7h-1V671.7h-4V671.7h-1V651.4h1Z" fill="#ef5350"/><path d="M2393.7 669.0h4V669.0h1V687.3h-1V701.6h-4V687.3h-1V669.0h1Z" fill="#26a69a"/><path d="M2396.6 639.1h4V668.4h1V687.3h-1V701.6h-4V687.3h-1V668.4h1Z" fill="#26a69a"/><path d="M2399.6 637.8h4V668.4h1V675.1h-1V701.6h-4V675.1h-1V668.4h1Z" fill="#ef5350"/><path d="M2402.6 644.6h4V671.1h1V677.1h-1V711.1h-4V677.1h-1V671.1h1Z" fill="#ef5350"/><path d="M2405.6 648.6h4V659.5h1V677.1h-1V701.6h-4V677.1h-1V659.5h1Z" fill="#26a69a"/><path d="M2408.6 651.4h4V659.5h1V663.5h-1V671.7h-4V663.5h-1V659.5h1Z" fill="#26a69a"/><path d="M2411.6 654.1h4V659.5h1V663.5h-1V669.0h-4V663.5h-1V659.5h1Z" fill="#26a69a"/><path d="M2414.6 635.1h4V656.2h1V663.5h-1V685.3h-4V663.5h-1V656.2h1Z" fill="#ef5350"/><path d="M2417.6 644.6h4V656.2h1V671.7h-1V671.7h-4V671.7h-1V656.2h1Z" fill="#ef5350"/><path d="M2420.6 669.0h4V669.0h1V677.8h-1V690.8h-4V677.8h-1V669.0h1Z" fill="#26a69a"/><path d="M2423.6 666.3h4V672.5h1V677.8h-1V682.6h-4V677.8h-1V672.5h1Z" fill="#ef5350"/><path d="M2426.6 652.7h4V672.5h1V679.2h-1V688.0h-4V679.2h-1V672.5h1Z" fill="#26a69a"/><path d="M2429.6 671.7h4V675.2h1V679.9h-1V682.6h-4V679.9h-1V675.2h1Z" fill="#26a69a"/><path d="M2432.6 673.1h4V675.9h1V679.9h-1V682.6h-4V679.9h-1V675.9h1Z" fill="#26a69a"/><path d="M2435.6 641.8h4V666.3h1V679.9h-1V684.0h-4V679.9h-1V666.3h1Z" fill="#ef5350"/><path d="M2438.6 652.7h4V665.1h1V670.3h-1V684.0h-4V670.3h-1V665.1h1Z" fill="#26a69a"/><path d="M2441.6 654.6h4V663.4h1V669.1h-1V679.6h-4V669.1h-1V663.4h1Z" fill="#ef5350"/><path d="M2444.5 629.6h4V641.7h1V667.4h-1V676.3h-4V667.4h-1V641.7h1Z" fill="#26a69a"/><path d="M2447.5 629.6h4V629.6h1V645.7h-1V657.8h-4V645.7h-1V629.6h1Z" fill="#26a69a"/><path d="M2450.5 616.5h4V622.1h1V631.7h-1V631.7h-4V631.7h-1V622.1h1Z" fill="#26a69a"/><path d="M2453.5 616.5h4V617.8h1V626.1h-1V631.7h-4V626.1h-1V617.8h1Z" fill="#26a69a"/><path d="M2456.5 579.6h4V599.8h1V621.8h-1V623.0h-4V621.8h-1V599.8h1Z" fill="#26a69a"/><path d="M2459.5 581.7h4V599.8h1V606.6h-1V622.0h-4V606.6h-1V599.8h1Z" fill="#26a69a"/><path d="M2462.5 587.2h4V602.6h1V627.2h-1V642.6h-4V627.2h-1V602.6h1Z" fill="#ef5350"/><path d="M2465.5 614.3h4V623.2h1V627.2h-1V636.1h-4V627.2h-1V623.2h1Z" fill="#ef5350"/><path d="M2468.5 606.7h4V621.0h1V627.2h-1V636.1h-4V627.2h-1V621.0h1Z" fill="#ef5350"/><path d="M2471.5 616.5h4V620.5h1V625.0h-1V629.6h-4V625.0h-1V620.5h1Z" fill="#ef5350"/><path d="M2474.5 616.5h4V620.5h1V624.5h-1V628.5h-4V624.5h-1V620.5h1Z" fill="#26a69a"/><path d="M2477.5 603.5h4V610.2h1V624.5h-1V635.0h-4V624.5h-1V610.2h1Z" fill="#ef5350"/><path d="M2480.5 549.1h4V558.0h1V614.2h-1V620.9h-4V614.2h-1V558.0h1Z" fill="#26a69a"/><path d="M2483.5 530.7h4V548.2h1V562.0h-1V570.9h-4V562.0h-1V548.2h1Z" fill="#26a69a"/><path d="M2486.5 536.1h4V548.2h1V560.9h-1V564.3h-4V560.9h-1V548.2h1Z" fill="#ef5350"/><path d="M2489.5 553.5h4V556.9h1V564.7h-1V570.9h-4V564.7h-1V556.9h1Z" fill="#26a69a"/><path d="M2492.5 554.6h4V560.7h1V573.4h-1V586.1h-4V573.4h-1V560.7h1Z" fill="#ef5350"/><path d="M2495.4 556.7h4V569.4h1V593.5h-1V605.7h-4V593.5h-1V569.4h1Z" fill="#ef5350"/><path d="M2498.4 581.7h4V589.5h1V600.6h-1V601.3h-4V600.6h-1V589.5h1Z" fill="#ef5350"/><path d="M2501.4 595.9h4V596.6h1V651.1h-1V666.5h-4V651.1h-1V596.6h1Z" fill="#ef5350"/><path d="M2504.4 631.7h4V644.4h1V651.1h-1V674.1h-4V651.1h-1V644.4h1Z" fill="#26a69a"/><path d="M2507.4 632.8h4V644.4h1V648.4h-1V660.0h-4V648.4h-1V644.4h1Z" fill="#ef5350"/><path d="M2510.4 632.8h4V644.4h1V658.2h-1V662.2h-4V658.2h-1V644.4h1Z" fill="#ef5350"/><path d="M2513.4 652.4h4V654.2h1V660.0h-1V660.0h-4V660.0h-1V654.2h1Z" fill="#ef5350"/><path d="M2516.4 660.0h4V660.0h1V686.5h-1V705.7h-4V686.5h-1V660.0h1Z" fill="#ef5350"/><path d="M2519.4 670.9h4V682.5h1V686.5h-1V698.0h-4V686.5h-1V682.5h1Z" fill="#26a69a"/><path d="M2522.4 669.8h4V673.8h1V686.5h-1V699.1h-4V686.5h-1V673.8h1Z" fill="#ef5350"/><path d="M2525.4 655.7h4V673.8h1V679.4h-1V681.7h-4V679.4h-1V673.8h1Z" fill="#26a69a"/><path d="M2528.4 673.0h4V675.4h1V737.3h-1V747.0h-4V737.3h-1V675.4h1Z" fill="#ef5350"/><path d="M2531.4 723.7h4V733.3h1V750.6h-1V772.2h-4V750.6h-1V733.3h1Z" fill="#26a69a"/><path d="M2534.4 725.0h4V746.6h1V811.4h-1V831.8h-4V811.4h-1V746.6h1Z" fill="#ef5350"/><path d="M2537.4 787.1h4V807.4h1V811.4h-1V831.8h-4V811.4h-1V807.4h1Z" fill="#ef5350"/><path d="M2540.4 783.4h4V807.4h1V819.5h-1V849.2h-4V819.5h-1V807.4h1Z" fill="#26a69a"/><path d="M2543.3 785.8h4V815.5h1V842.5h-1V865.3h-4V842.5h-1V815.5h1Z" fill="#ef5350"/><path d="M2546.3 815.7h4V838.5h1V872.3h-1V879.0h-4V872.3h-1V838.5h1Z" fill="#ef5350"/><path d="M2549.3 861.6h4V868.3h1V940.6h-1V998.3h-4V940.6h-1V868.3h1Z" fill="#ef5350"/><path d="M2552.3 879.0h4V906.2h1V940.6h-1V1026.8h-4V940.6h-1V906.2h1Z" fill="#26a69a"/><path d="M2555.3 881.5h4V895.6h1V910.2h-1V934.9h-4V910.2h-1V895.6h1Z" fill="#ef5350"/><path d="M2558.3 872.8h4V895.6h1V900.9h-1V913.8h-4V900.9h-1V895.6h1Z" fill="#26a69a"/><path d="M2561.3 884.0h4V896.9h1V918.3h-1V928.7h-4V918.3h-1V896.9h1Z" fill="#ef5350"/><path d="M2564.3 903.9h4V914.3h1V930.7h-1V938.6h-4V930.7h-1V914.3h1Z" fill="#ef5350"/><path d="M2567.3 918.8h4V926.7h1V946.2h-1V959.8h-4V946.2h-1V926.7h1Z" fill="#ef5350"/><path d="M2570.3 928.7h4V941.6h1V946.2h-1V967.2h-4V946.2h-1V941.6h1Z" fill="#ef5350"/><path d="M2573.3 913.8h4V919.2h1V945.6h-1V958.5h-4V945.6h-1V919.2h1Z" fill="#26a69a"/><path d="M2576.3 898.9h4V910.5h1V923.2h-1V928.7h-4V923.2h-1V910.5h1Z" fill="#26a69a"/><path d="M2579.3 891.4h4V910.5h1V917.0h-1V926.2h-4V917.0h-1V910.5h1Z" fill="#ef5350"/><path d="M2582.3 903.9h4V913.0h1V928.8h-1V938.6h-4V928.8h-1V913.0h1Z" fill="#26a69a"/><path d="M2585.3 915.0h4V924.8h1V933.2h-1V943.6h-4V933.2h-1V924.8h1Z" fill="#ef5350"/><path d="M2588.3 918.8h4V929.2h1V939.4h-1V952.3h-4V939.4h-1V929.2h1Z" fill="#ef5350"/><path d="M2591.2 922.5h4V928.6h1V939.4h-1V952.3h-4V939.4h-1V928.6h1Z" fill="#26a69a"/><path d="M2594.2 921.2h4V924.2h1V932.6h-1V938.6h-4V932.6h-1V924.2h1Z" fill="#26a69a"/><path d="M2597.2 917.5h4V922.3h1V928.2h-1V931.2h-4V928.2h-1V922.3h1Z" fill="#ef5350"/></g><g fill="#26a69a"><path d="M250.8 1200.4H269.2L260.0 1188.4Z"/><path d="M326.8 1228.5H345.2L336.0 1216.5Z"/><path d="M361.8 1184.5H380.2L371.0 1172.5Z"/><path d="M364.8 1172.0H383.2L374.0 1160.0Z"/><path d="M368.3 1158.4H386.7L377.5 1146.4Z"/><path d="M379.0 1132.0H397.4L388.2 1120.0Z"/><path d="M383.5 1087.8H401.9L392.7 1075.8Z"/><path d="M419.4 1052.5H437.8L428.6 1040.5Z"/><path d="M425.3 970.5H443.7L434.5 958.5Z"/><path d="M500.5 884.4H518.9L509.7 872.4Z"/><path d="M503.3 847.7H521.7L512.5 835.7Z"/><path d="M538.6 850.5H557.0L547.8 838.5Z"/><path d="M620.1 931.6H638.5L629.3 919.6Z"/><path d="M656.4 920.7H674.8L665.6 908.7Z"/><path d="M793.4 932.7H811.8L802.6 920.7Z"/><path d="M832.9 989.3H851.3L842.1 977.3Z"/><path d="M835.6 967.6H854.0L844.8 955.6Z"/><path d="M838.5 946.2H856.9L847.7 934.2Z"/><path d="M850.9 891.8H869.3L860.1 879.8Z"/><path d="M871.1 884.2H889.5L880.3 872.2Z"/><path d="M909.8 985.5H928.2L919.0 973.5Z"/><path d="M955.3 953.8H973.7L964.5 941.8Z"/><path d="M1006.2 1036.2H1024.6L1015.4 1024.2Z"/><path d="M1017.8 998.1H1036.2L1027.0 986.1Z"/><path d="M1032.8 972.5H1051.2L1042.0 960.5Z"/><path d="M1034.8 966.6H1053.2L1044.0 954.6Z"/><path d="M1057.1 933.6H1075.5L1066.3 921.6Z"/><path d="M1080.8 961.0H1099.2L1090.0 949.0Z"/><path d="M1102.3 947.4H1120.7L1111.5 935.4Z"/><path d="M1110.9 914.8H1129.3L1120.1 902.8Z"/><path d="M1115.0 884.5H1133.4L1124.2 872.5Z"/><path d="M1149.9 865.1H1168.3L1159.1 853.1Z"/><path d="M1152.9 838.5H1171.3L1162.1 826.5Z"/><path d="M1155.7 816.6H1174.1L1164.9 804.6Z"/><path d="M1179.7 771.9H1198.1L1188.9 759.9Z"/><path d="M1191.8 688.9H1210.2L1201.0 676.9Z"/><path d="M1221.8 470.0H1240.2L1231.0 458.0Z"/><path d="M1224.8 413.5H1243.2L1234.0 401.5Z"/><path d="M1284.5 389.9H1302.9L1293.7 377.9Z"/><path d="M1296.5 343.2H1314.9L1305.7 331.2Z"/><path d="M1299.7 305.1H1318.1L1308.9 293.1Z"/><path d="M1323.6 400.0H1342.0L1332.8 388.0Z"/><path d="M1351.5 408.4H1369.9L1360.7 396.4Z"/><path d="M1578.7 651.3H1597.1L1587.9 639.3Z"/><path d="M1590.4 621.5H1608.8L1599.6 609.5Z"/><path d="M1593.2 608.5H1611.6L1602.4 596.5Z"/><path d="M1677.0 669.5H1695.4L1686.2 657.5Z"/><path d="M1679.0 595.8H1697.4L1688.2 583.8Z"/><path d="M1721.9 541.6H1740.3L1731.1 529.6Z"/><path d="M1721.5 533.0H1739.9L1730.7 521.0Z"/><path d="M1724.7 524.3H1743.1L1733.9 512.3Z"/><path d="M1727.5 448.3H1745.9L1736.7 436.3Z"/><path d="M1766.2 359.0H1784.6L1775.4 347.0Z"/><path d="M1823.3 386.4H1841.7L1832.5 374.4Z"/><path d="M1865.1 453.6H1883.5L1874.3 441.6Z"/><path d="M1892.9 429.3H1911.3L1902.1 417.3Z"/><path d="M1913.5 393.0H1931.9L1922.7 381.0Z"/><path d="M1916.2 334.8H1934.6L1925.4 322.8Z"/><path d="M1967.1 292.4H1985.5L1976.3 280.4Z"/><path d="M2000.7 319.2H2019.1L2009.9 307.2Z"/><path d="M2009.1 285.7H2027.5L2018.3 273.7Z"/><path d="M2078.0 384.3H2096.4L2087.2 372.3Z"/><path d="M2101.8 359.1H2120.2L2111.0 347.1Z"/><path d="M2104.8 341.5H2123.2L2114.0 329.5Z"/><path d="M2155.4 382.1H2173.8L2164.6 370.1Z"/><path d="M2164.7 299.9H2183.1L2173.9 287.9Z"/><path d="M2167.7 286.3H2186.1L2176.9 274.3Z"/><path d="M2177.1 239.4H2195.5L2186.3 227.4Z"/><path d="M2230.6 394.4H2249.0L2239.8 382.4Z"/><path d="M2239.6 344.9H2258.0L2248.8 332.9Z"/><path d="M2281.0 454.5H2299.4L2290.2 442.5Z"/><path d="M2332.3 641.6H2350.7L2341.5 629.6Z"/><path d="M2350.4 633.5H2368.8L2359.6 621.5Z"/><path d="M2442.9 663.4H2461.3L2452.1 651.4Z"/><path d="M2450.8 634.6H2469.2L2460.0 622.6Z"/><path d="M2475.8 591.7H2494.2L2485.0 579.7Z"/><path d="M2568.8 934.7H2587.2L2578.0 922.7Z"/><path d="M2589.6 944.6H2608.0L2598.8 932.6Z"/><path d="M662.2 886.4H680.6L671.4 874.4Z"/><path d="M670.4 859.8H688.8L679.6 847.8Z"/><path d="M1394.7 325.0H1413.1L1403.9 313.0Z"/></g>
</svg></body></html>
